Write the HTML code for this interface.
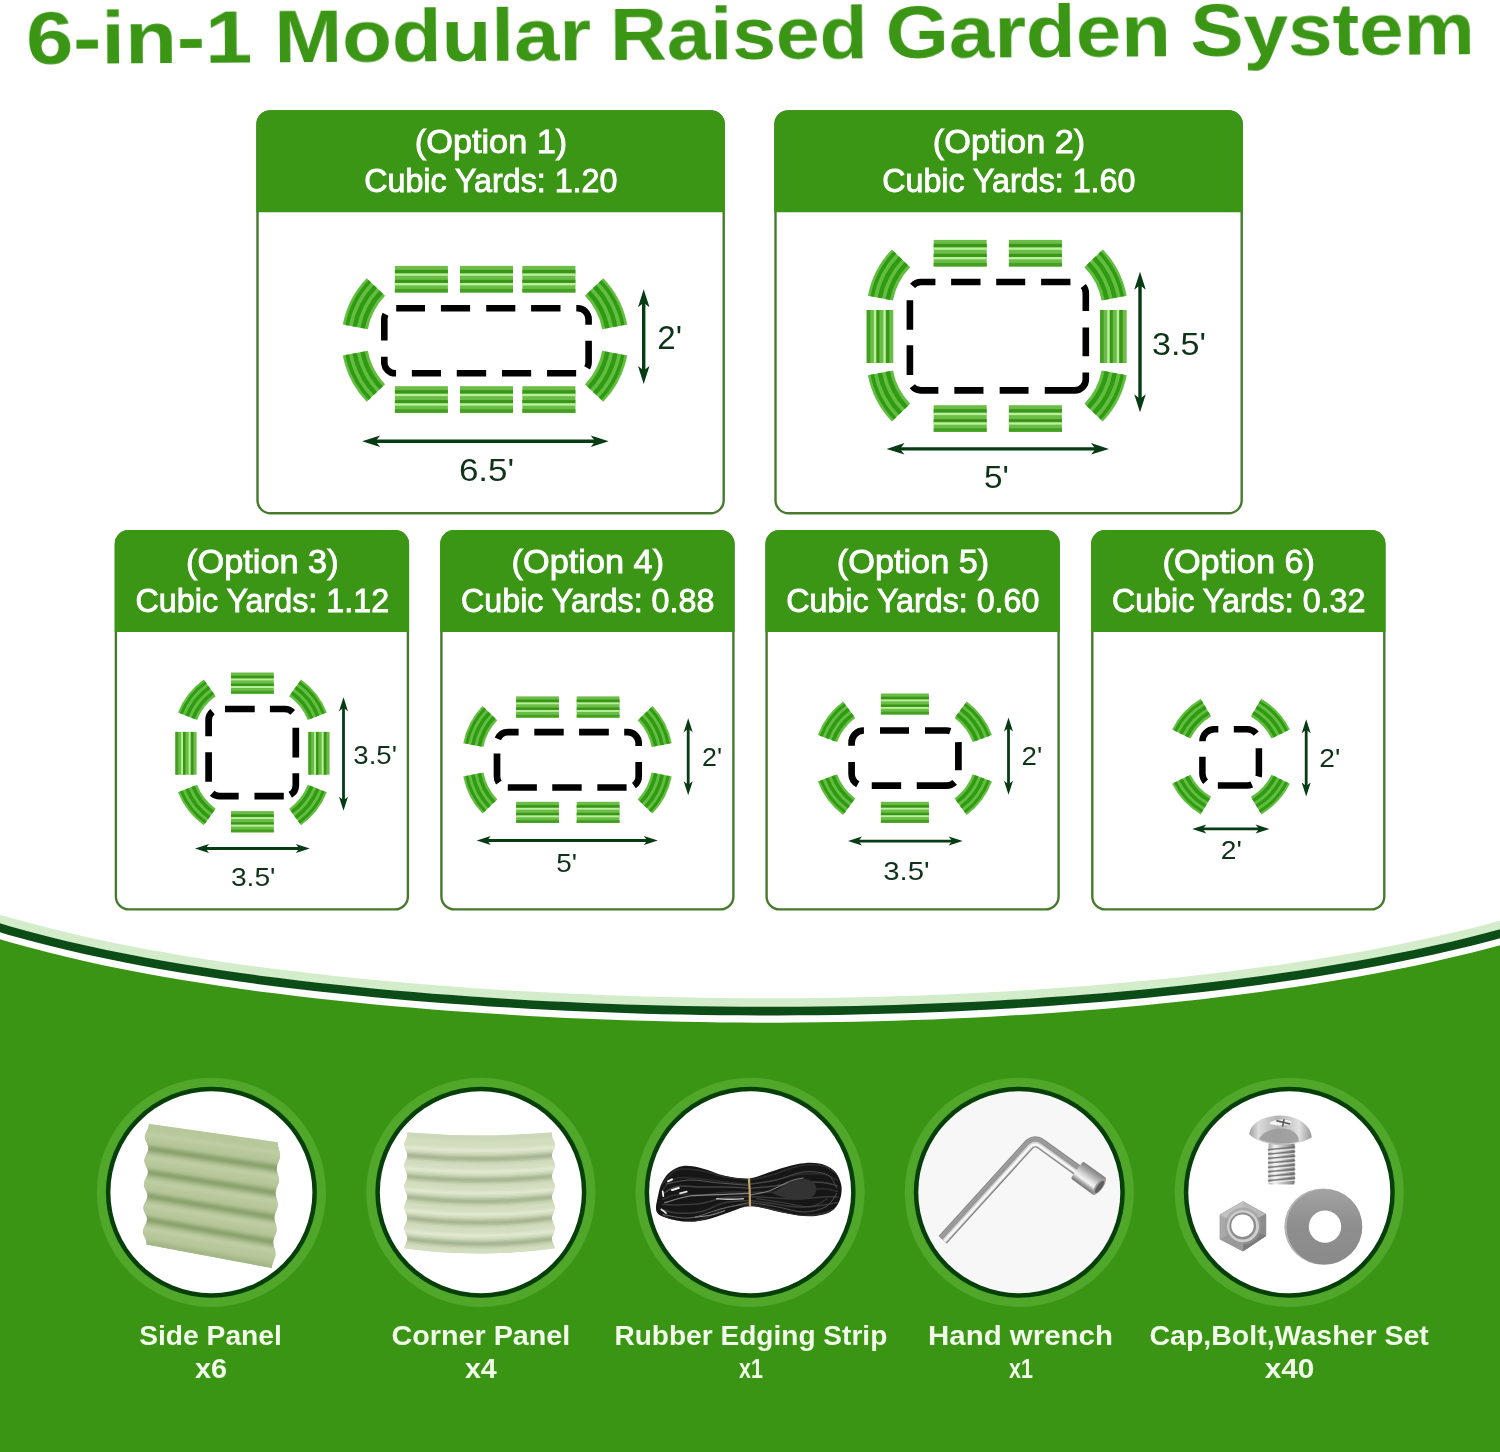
<!DOCTYPE html>
<html><head><meta charset="utf-8"><title>6-in-1 Modular Raised Garden System</title>
<style>html,body{margin:0;padding:0;background:#fff;}svg{display:block}text{font-family:"Liberation Sans",sans-serif;}</style>
</head><body>
<svg width="1500" height="1452" viewBox="0 0 1500 1452">
<rect width="1500" height="1452" fill="#fff"/>
<g opacity="0.999">
<g transform="rotate(-0.39 28 64)">
<text x="26.2" y="64.0" font-family="Liberation Sans, sans-serif" font-size="75" fill="#3c9616" text-anchor="start" font-weight="bold" textLength="226.2" lengthAdjust="spacingAndGlyphs">6-in-1</text>
<text x="274.5" y="64.0" font-family="Liberation Sans, sans-serif" font-size="75" fill="#3c9616" text-anchor="start" font-weight="bold" textLength="316.6" lengthAdjust="spacingAndGlyphs">Modular</text>
<text x="610.2" y="64.0" font-family="Liberation Sans, sans-serif" font-size="75" fill="#3c9616" text-anchor="start" font-weight="bold" textLength="257.6" lengthAdjust="spacingAndGlyphs">Raised</text>
<text x="885.7" y="64.0" font-family="Liberation Sans, sans-serif" font-size="75" fill="#3c9616" text-anchor="start" font-weight="bold" textLength="285.3" lengthAdjust="spacingAndGlyphs">Garden</text>
<text x="1190.5" y="64.0" font-family="Liberation Sans, sans-serif" font-size="75" fill="#3c9616" text-anchor="start" font-weight="bold" textLength="284.2" lengthAdjust="spacingAndGlyphs">System</text>
</g>
<rect x="257.5" y="111.4" width="466.2" height="401.9" rx="13" fill="#fff" stroke="#467a2c" stroke-width="2.4"/>
<path d="M256.3 212.3 V124.2 a14 14 0 0 1 14 -14 H710.9 a14 14 0 0 1 14 14 V212.3 Z" fill="#3c9616"/>
<text x="414.8" y="153.2" font-family="Liberation Sans, sans-serif" font-size="34" fill="#fff" text-anchor="start" textLength="152.5" lengthAdjust="spacingAndGlyphs" stroke="#fff" stroke-width="0.9">(Option 1)</text>
<text x="364.2" y="192.2" font-family="Liberation Sans, sans-serif" font-size="34" fill="#fff" text-anchor="start" textLength="253.2" lengthAdjust="spacingAndGlyphs" stroke="#fff" stroke-width="0.9">Cubic Yards: 1.20</text>
<rect x="775.5" y="111.4" width="466.2" height="401.9" rx="13" fill="#fff" stroke="#467a2c" stroke-width="2.4"/>
<path d="M774.3 212.3 V124.2 a14 14 0 0 1 14 -14 H1228.9 a14 14 0 0 1 14 14 V212.3 Z" fill="#3c9616"/>
<text x="932.8" y="153.2" font-family="Liberation Sans, sans-serif" font-size="34" fill="#fff" text-anchor="start" textLength="152.5" lengthAdjust="spacingAndGlyphs" stroke="#fff" stroke-width="0.9">(Option 2)</text>
<text x="882.2" y="192.2" font-family="Liberation Sans, sans-serif" font-size="34" fill="#fff" text-anchor="start" textLength="253.2" lengthAdjust="spacingAndGlyphs" stroke="#fff" stroke-width="0.9">Cubic Yards: 1.60</text>
<rect x="115.9" y="531.2" width="292.0" height="378.2" rx="13" fill="#fff" stroke="#467a2c" stroke-width="2.4"/>
<path d="M114.7 632.0 V544.0 a14 14 0 0 1 14 -14 H395.1 a14 14 0 0 1 14 14 V632.0 Z" fill="#3c9616"/>
<text x="186.1" y="573.0" font-family="Liberation Sans, sans-serif" font-size="34" fill="#fff" text-anchor="start" textLength="152.5" lengthAdjust="spacingAndGlyphs" stroke="#fff" stroke-width="0.9">(Option 3)</text>
<text x="135.5" y="612.0" font-family="Liberation Sans, sans-serif" font-size="34" fill="#fff" text-anchor="start" textLength="253.6" lengthAdjust="spacingAndGlyphs" stroke="#fff" stroke-width="0.9">Cubic Yards: 1.12</text>
<rect x="441.4" y="531.2" width="292.0" height="378.2" rx="13" fill="#fff" stroke="#467a2c" stroke-width="2.4"/>
<path d="M440.2 632.0 V544.0 a14 14 0 0 1 14 -14 H720.6 a14 14 0 0 1 14 14 V632.0 Z" fill="#3c9616"/>
<text x="511.6" y="573.0" font-family="Liberation Sans, sans-serif" font-size="34" fill="#fff" text-anchor="start" textLength="152.5" lengthAdjust="spacingAndGlyphs" stroke="#fff" stroke-width="0.9">(Option 4)</text>
<text x="461.0" y="612.0" font-family="Liberation Sans, sans-serif" font-size="34" fill="#fff" text-anchor="start" textLength="253.4" lengthAdjust="spacingAndGlyphs" stroke="#fff" stroke-width="0.9">Cubic Yards: 0.88</text>
<rect x="766.6" y="531.2" width="292.0" height="378.2" rx="13" fill="#fff" stroke="#467a2c" stroke-width="2.4"/>
<path d="M765.4 632.0 V544.0 a14 14 0 0 1 14 -14 H1045.8 a14 14 0 0 1 14 14 V632.0 Z" fill="#3c9616"/>
<text x="836.8" y="573.0" font-family="Liberation Sans, sans-serif" font-size="34" fill="#fff" text-anchor="start" textLength="152.5" lengthAdjust="spacingAndGlyphs" stroke="#fff" stroke-width="0.9">(Option 5)</text>
<text x="786.2" y="612.0" font-family="Liberation Sans, sans-serif" font-size="34" fill="#fff" text-anchor="start" textLength="253.2" lengthAdjust="spacingAndGlyphs" stroke="#fff" stroke-width="0.9">Cubic Yards: 0.60</text>
<rect x="1092.3" y="531.2" width="292.0" height="378.2" rx="13" fill="#fff" stroke="#467a2c" stroke-width="2.4"/>
<path d="M1091.1 632.0 V544.0 a14 14 0 0 1 14 -14 H1371.5 a14 14 0 0 1 14 14 V632.0 Z" fill="#3c9616"/>
<text x="1162.5" y="573.0" font-family="Liberation Sans, sans-serif" font-size="34" fill="#fff" text-anchor="start" textLength="152.5" lengthAdjust="spacingAndGlyphs" stroke="#fff" stroke-width="0.9">(Option 6)</text>
<text x="1111.9" y="612.0" font-family="Liberation Sans, sans-serif" font-size="34" fill="#fff" text-anchor="start" textLength="253.6" lengthAdjust="spacingAndGlyphs" stroke="#fff" stroke-width="0.9">Cubic Yards: 0.32</text>
<g transform="translate(421.4 279.2)">
<rect x="-26.50" y="-13.30" width="53.00" height="26.60" fill="#6cbc48"/>
<rect x="-26.50" y="-9.34" width="53.00" height="3.59" fill="#3a9618"/>
<rect x="-26.50" y="-5.75" width="53.00" height="2.37" fill="#b8f09c"/>
<rect x="-26.50" y="0.59" width="53.00" height="3.19" fill="#3a9618"/>
<rect x="-26.50" y="3.78" width="53.00" height="2.37" fill="#b8f09c"/>
<rect x="-26.50" y="9.74" width="53.00" height="3.56" fill="#43a020"/>
</g>
<g transform="translate(421.4 399.5)">
<rect x="-26.50" y="-13.30" width="53.00" height="26.60" fill="#6cbc48"/>
<rect x="-26.50" y="-9.34" width="53.00" height="3.59" fill="#3a9618"/>
<rect x="-26.50" y="-5.75" width="53.00" height="2.37" fill="#b8f09c"/>
<rect x="-26.50" y="0.59" width="53.00" height="3.19" fill="#3a9618"/>
<rect x="-26.50" y="3.78" width="53.00" height="2.37" fill="#b8f09c"/>
<rect x="-26.50" y="9.74" width="53.00" height="3.56" fill="#43a020"/>
</g>
<g transform="translate(486.5 279.2)">
<rect x="-26.50" y="-13.30" width="53.00" height="26.60" fill="#6cbc48"/>
<rect x="-26.50" y="-9.34" width="53.00" height="3.59" fill="#3a9618"/>
<rect x="-26.50" y="-5.75" width="53.00" height="2.37" fill="#b8f09c"/>
<rect x="-26.50" y="0.59" width="53.00" height="3.19" fill="#3a9618"/>
<rect x="-26.50" y="3.78" width="53.00" height="2.37" fill="#b8f09c"/>
<rect x="-26.50" y="9.74" width="53.00" height="3.56" fill="#43a020"/>
</g>
<g transform="translate(486.5 399.5)">
<rect x="-26.50" y="-13.30" width="53.00" height="26.60" fill="#6cbc48"/>
<rect x="-26.50" y="-9.34" width="53.00" height="3.59" fill="#3a9618"/>
<rect x="-26.50" y="-5.75" width="53.00" height="2.37" fill="#b8f09c"/>
<rect x="-26.50" y="0.59" width="53.00" height="3.19" fill="#3a9618"/>
<rect x="-26.50" y="3.78" width="53.00" height="2.37" fill="#b8f09c"/>
<rect x="-26.50" y="9.74" width="53.00" height="3.56" fill="#43a020"/>
</g>
<g transform="translate(548.9 279.2)">
<rect x="-26.50" y="-13.30" width="53.00" height="26.60" fill="#6cbc48"/>
<rect x="-26.50" y="-9.34" width="53.00" height="3.59" fill="#3a9618"/>
<rect x="-26.50" y="-5.75" width="53.00" height="2.37" fill="#b8f09c"/>
<rect x="-26.50" y="0.59" width="53.00" height="3.19" fill="#3a9618"/>
<rect x="-26.50" y="3.78" width="53.00" height="2.37" fill="#b8f09c"/>
<rect x="-26.50" y="9.74" width="53.00" height="3.56" fill="#43a020"/>
</g>
<g transform="translate(548.9 399.5)">
<rect x="-26.50" y="-13.30" width="53.00" height="26.60" fill="#6cbc48"/>
<rect x="-26.50" y="-9.34" width="53.00" height="3.59" fill="#3a9618"/>
<rect x="-26.50" y="-5.75" width="53.00" height="2.37" fill="#b8f09c"/>
<rect x="-26.50" y="0.59" width="53.00" height="3.19" fill="#3a9618"/>
<rect x="-26.50" y="3.78" width="53.00" height="2.37" fill="#b8f09c"/>
<rect x="-26.50" y="9.74" width="53.00" height="3.56" fill="#43a020"/>
</g>
<path d="M342.82 324.39 A91.50 91.50 0 0 1 366.66 278.20 L385.06 295.85 A66.00 66.00 0 0 0 367.87 329.16 Z" fill="#62bd40"/>
<path d="M362.61 328.16 A71.36 71.36 0 0 1 381.20 292.14" fill="none" stroke="#2f9a12" stroke-width="4.46"/>
<path d="M354.69 326.65 A79.41 79.41 0 0 1 375.38 286.57" fill="none" stroke="#2f9a12" stroke-width="4.46"/>
<path d="M347.20 325.22 A87.04 87.04 0 0 1 369.88 281.29" fill="none" stroke="#2f9a12" stroke-width="3.57"/>
<path d="M603.34 278.20 A91.50 91.50 0 0 1 627.18 324.39 L602.13 329.16 A66.00 66.00 0 0 0 584.94 295.85 Z" fill="#62bd40"/>
<path d="M588.80 292.14 A71.36 71.36 0 0 1 607.39 328.16" fill="none" stroke="#2f9a12" stroke-width="4.46"/>
<path d="M594.62 286.57 A79.41 79.41 0 0 1 615.31 326.65" fill="none" stroke="#2f9a12" stroke-width="4.46"/>
<path d="M600.12 281.29 A87.04 87.04 0 0 1 622.80 325.22" fill="none" stroke="#2f9a12" stroke-width="3.57"/>
<path d="M366.66 401.80 A91.50 91.50 0 0 1 342.82 355.61 L367.87 350.84 A66.00 66.00 0 0 0 385.06 384.15 Z" fill="#62bd40"/>
<path d="M381.20 387.86 A71.36 71.36 0 0 1 362.61 351.84" fill="none" stroke="#2f9a12" stroke-width="4.46"/>
<path d="M375.38 393.43 A79.41 79.41 0 0 1 354.69 353.35" fill="none" stroke="#2f9a12" stroke-width="4.46"/>
<path d="M369.88 398.71 A87.04 87.04 0 0 1 347.20 354.78" fill="none" stroke="#2f9a12" stroke-width="3.57"/>
<path d="M627.18 355.61 A91.50 91.50 0 0 1 603.34 401.80 L584.94 384.15 A66.00 66.00 0 0 0 602.13 350.84 Z" fill="#62bd40"/>
<path d="M607.39 351.84 A71.36 71.36 0 0 1 588.80 387.86" fill="none" stroke="#2f9a12" stroke-width="4.46"/>
<path d="M615.31 353.35 A79.41 79.41 0 0 1 594.62 393.43" fill="none" stroke="#2f9a12" stroke-width="4.46"/>
<path d="M622.80 354.78 A87.04 87.04 0 0 1 600.12 398.71" fill="none" stroke="#2f9a12" stroke-width="3.57"/>
<path d="M384.30 319.30 A11 11 0 0 1 395.30 308.30 H577.60 A11 11 0 0 1 588.60 319.30 V362.30 A11 11 0 0 1 577.60 373.30 H395.30 A11 11 0 0 1 384.30 362.30 V319.30" fill="none" stroke="#000" stroke-width="6.6" stroke-dasharray="5.18 12.90 28.80 15.90 29.20 16.10 29.10 15.80 29.40 15.80 23.78 16.10 27.30 12.88 29.10 15.90 29.20 15.80 29.40 15.80 29.10 15.80 23.58 16.10 21.70 50.00"/>
<line x1="643.7" y1="300.0" x2="643.7" y2="373.1" stroke="#073b13" stroke-width="3.4"/>
<path d="M643.7 289.2 L638.0 307.2 L643.7 302.7 L649.5 307.2 Z" fill="#073b13"/>
<path d="M643.7 383.9 L638.0 365.9 L643.7 370.4 L649.5 365.9 Z" fill="#073b13"/>
<text x="657.3" y="348.8" font-family="Liberation Sans, sans-serif" font-size="33" fill="#0f3318" text-anchor="start" textLength="24.7" lengthAdjust="spacingAndGlyphs">2'</text>
<line x1="372.9" y1="441.2" x2="597.9" y2="441.2" stroke="#073b13" stroke-width="3.4"/>
<path d="M362.1 441.2 L380.1 446.9 L375.6 441.2 L380.1 435.4 Z" fill="#073b13"/>
<path d="M608.7 441.2 L590.7 446.9 L595.2 441.2 L590.7 435.4 Z" fill="#073b13"/>
<text x="458.9" y="480.6" font-family="Liberation Sans, sans-serif" font-size="32" fill="#0f3318" text-anchor="start" textLength="55.3" lengthAdjust="spacingAndGlyphs">6.5'</text>
<g transform="translate(960.2 253.2)">
<rect x="-26.50" y="-13.30" width="53.00" height="26.60" fill="#6cbc48"/>
<rect x="-26.50" y="-9.34" width="53.00" height="3.59" fill="#3a9618"/>
<rect x="-26.50" y="-5.75" width="53.00" height="2.37" fill="#b8f09c"/>
<rect x="-26.50" y="0.59" width="53.00" height="3.19" fill="#3a9618"/>
<rect x="-26.50" y="3.78" width="53.00" height="2.37" fill="#b8f09c"/>
<rect x="-26.50" y="9.74" width="53.00" height="3.56" fill="#43a020"/>
</g>
<g transform="translate(960.2 418.5)">
<rect x="-26.50" y="-13.30" width="53.00" height="26.60" fill="#6cbc48"/>
<rect x="-26.50" y="-9.34" width="53.00" height="3.59" fill="#3a9618"/>
<rect x="-26.50" y="-5.75" width="53.00" height="2.37" fill="#b8f09c"/>
<rect x="-26.50" y="0.59" width="53.00" height="3.19" fill="#3a9618"/>
<rect x="-26.50" y="3.78" width="53.00" height="2.37" fill="#b8f09c"/>
<rect x="-26.50" y="9.74" width="53.00" height="3.56" fill="#43a020"/>
</g>
<g transform="translate(1035.4 253.2)">
<rect x="-26.50" y="-13.30" width="53.00" height="26.60" fill="#6cbc48"/>
<rect x="-26.50" y="-9.34" width="53.00" height="3.59" fill="#3a9618"/>
<rect x="-26.50" y="-5.75" width="53.00" height="2.37" fill="#b8f09c"/>
<rect x="-26.50" y="0.59" width="53.00" height="3.19" fill="#3a9618"/>
<rect x="-26.50" y="3.78" width="53.00" height="2.37" fill="#b8f09c"/>
<rect x="-26.50" y="9.74" width="53.00" height="3.56" fill="#43a020"/>
</g>
<g transform="translate(1035.4 418.5)">
<rect x="-26.50" y="-13.30" width="53.00" height="26.60" fill="#6cbc48"/>
<rect x="-26.50" y="-9.34" width="53.00" height="3.59" fill="#3a9618"/>
<rect x="-26.50" y="-5.75" width="53.00" height="2.37" fill="#b8f09c"/>
<rect x="-26.50" y="0.59" width="53.00" height="3.19" fill="#3a9618"/>
<rect x="-26.50" y="3.78" width="53.00" height="2.37" fill="#b8f09c"/>
<rect x="-26.50" y="9.74" width="53.00" height="3.56" fill="#43a020"/>
</g>
<g transform="translate(880.0 336.5) rotate(90)">
<rect x="-26.50" y="-13.30" width="53.00" height="26.60" fill="#6cbc48"/>
<rect x="-26.50" y="-9.34" width="53.00" height="3.59" fill="#3a9618"/>
<rect x="-26.50" y="-5.75" width="53.00" height="2.37" fill="#b8f09c"/>
<rect x="-26.50" y="0.59" width="53.00" height="3.19" fill="#3a9618"/>
<rect x="-26.50" y="3.78" width="53.00" height="2.37" fill="#b8f09c"/>
<rect x="-26.50" y="9.74" width="53.00" height="3.56" fill="#43a020"/>
</g>
<g transform="translate(1113.4 336.5) rotate(90)">
<rect x="-26.50" y="-13.30" width="53.00" height="26.60" fill="#6cbc48"/>
<rect x="-26.50" y="-9.34" width="53.00" height="3.59" fill="#3a9618"/>
<rect x="-26.50" y="-5.75" width="53.00" height="2.37" fill="#b8f09c"/>
<rect x="-26.50" y="0.59" width="53.00" height="3.19" fill="#3a9618"/>
<rect x="-26.50" y="3.78" width="53.00" height="2.37" fill="#b8f09c"/>
<rect x="-26.50" y="9.74" width="53.00" height="3.56" fill="#43a020"/>
</g>
<path d="M867.92 295.69 A91.50 91.50 0 0 1 891.76 249.50 L910.16 267.15 A66.00 66.00 0 0 0 892.97 300.46 Z" fill="#62bd40"/>
<path d="M887.71 299.46 A71.36 71.36 0 0 1 906.30 263.44" fill="none" stroke="#2f9a12" stroke-width="4.46"/>
<path d="M879.79 297.95 A79.41 79.41 0 0 1 900.48 257.87" fill="none" stroke="#2f9a12" stroke-width="4.46"/>
<path d="M872.30 296.52 A87.04 87.04 0 0 1 894.98 252.59" fill="none" stroke="#2f9a12" stroke-width="3.57"/>
<path d="M1102.84 249.50 A91.50 91.50 0 0 1 1126.68 295.69 L1101.63 300.46 A66.00 66.00 0 0 0 1084.44 267.15 Z" fill="#62bd40"/>
<path d="M1088.30 263.44 A71.36 71.36 0 0 1 1106.89 299.46" fill="none" stroke="#2f9a12" stroke-width="4.46"/>
<path d="M1094.12 257.87 A79.41 79.41 0 0 1 1114.81 297.95" fill="none" stroke="#2f9a12" stroke-width="4.46"/>
<path d="M1099.62 252.59 A87.04 87.04 0 0 1 1122.30 296.52" fill="none" stroke="#2f9a12" stroke-width="3.57"/>
<path d="M891.76 421.50 A91.50 91.50 0 0 1 867.92 375.31 L892.97 370.54 A66.00 66.00 0 0 0 910.16 403.85 Z" fill="#62bd40"/>
<path d="M906.30 407.56 A71.36 71.36 0 0 1 887.71 371.54" fill="none" stroke="#2f9a12" stroke-width="4.46"/>
<path d="M900.48 413.13 A79.41 79.41 0 0 1 879.79 373.05" fill="none" stroke="#2f9a12" stroke-width="4.46"/>
<path d="M894.98 418.41 A87.04 87.04 0 0 1 872.30 374.48" fill="none" stroke="#2f9a12" stroke-width="3.57"/>
<path d="M1126.68 375.31 A91.50 91.50 0 0 1 1102.84 421.50 L1084.44 403.85 A66.00 66.00 0 0 0 1101.63 370.54 Z" fill="#62bd40"/>
<path d="M1106.89 371.54 A71.36 71.36 0 0 1 1088.30 407.56" fill="none" stroke="#2f9a12" stroke-width="4.46"/>
<path d="M1114.81 373.05 A79.41 79.41 0 0 1 1094.12 413.13" fill="none" stroke="#2f9a12" stroke-width="4.46"/>
<path d="M1122.30 374.48 A87.04 87.04 0 0 1 1099.62 418.41" fill="none" stroke="#2f9a12" stroke-width="3.57"/>
<path d="M909.90 293.00 A11 11 0 0 1 920.90 282.00 H1074.80 A11 11 0 0 1 1085.80 293.00 V379.40 A11 11 0 0 1 1074.80 390.40 H920.90 A11 11 0 0 1 909.90 379.40 V293.00" fill="none" stroke="#000" stroke-width="6.6" stroke-dasharray="0.00 7.78 23.90 15.70 29.40 15.70 29.00 15.90 29.30 14.00 25.58 16.40 28.70 16.40 54.08 16.20 28.90 16.20 29.10 16.00 27.30 11.78 29.80 15.30 29.50 57.80"/>
<line x1="1140.0" y1="282.5" x2="1140.0" y2="401.4" stroke="#073b13" stroke-width="3.4"/>
<path d="M1140.0 271.7 L1134.2 289.7 L1140.0 285.2 L1145.8 289.7 Z" fill="#073b13"/>
<path d="M1140.0 412.2 L1134.2 394.2 L1140.0 398.7 L1145.8 394.2 Z" fill="#073b13"/>
<text x="1152.1" y="355.2" font-family="Liberation Sans, sans-serif" font-size="32" fill="#0f3318" text-anchor="start" textLength="53.8" lengthAdjust="spacingAndGlyphs">3.5'</text>
<line x1="897.3" y1="448.9" x2="1098.2" y2="448.9" stroke="#073b13" stroke-width="3.4"/>
<path d="M886.5 448.9 L904.5 454.6 L900.0 448.9 L904.5 443.1 Z" fill="#073b13"/>
<path d="M1109.0 448.9 L1091.0 454.6 L1095.5 448.9 L1091.0 443.1 Z" fill="#073b13"/>
<text x="983.9" y="487.6" font-family="Liberation Sans, sans-serif" font-size="32" fill="#0f3318" text-anchor="start" textLength="24.9" lengthAdjust="spacingAndGlyphs">5'</text>
<g transform="translate(252.4 683.1)">
<rect x="-21.40" y="-10.60" width="42.80" height="21.20" fill="#6cbc48"/>
<rect x="-21.40" y="-7.44" width="42.80" height="2.86" fill="#3a9618"/>
<rect x="-21.40" y="-4.58" width="42.80" height="1.89" fill="#b8f09c"/>
<rect x="-21.40" y="0.47" width="42.80" height="2.54" fill="#3a9618"/>
<rect x="-21.40" y="3.01" width="42.80" height="1.89" fill="#b8f09c"/>
<rect x="-21.40" y="7.76" width="42.80" height="2.84" fill="#43a020"/>
</g>
<g transform="translate(252.4 821.7)">
<rect x="-21.40" y="-10.60" width="42.80" height="21.20" fill="#6cbc48"/>
<rect x="-21.40" y="-7.44" width="42.80" height="2.86" fill="#3a9618"/>
<rect x="-21.40" y="-4.58" width="42.80" height="1.89" fill="#b8f09c"/>
<rect x="-21.40" y="0.47" width="42.80" height="2.54" fill="#3a9618"/>
<rect x="-21.40" y="3.01" width="42.80" height="1.89" fill="#b8f09c"/>
<rect x="-21.40" y="7.76" width="42.80" height="2.84" fill="#43a020"/>
</g>
<g transform="translate(186.0 753.3) rotate(90)">
<rect x="-21.40" y="-10.60" width="42.80" height="21.20" fill="#6cbc48"/>
<rect x="-21.40" y="-7.44" width="42.80" height="2.86" fill="#3a9618"/>
<rect x="-21.40" y="-4.58" width="42.80" height="1.89" fill="#b8f09c"/>
<rect x="-21.40" y="0.47" width="42.80" height="2.54" fill="#3a9618"/>
<rect x="-21.40" y="3.01" width="42.80" height="1.89" fill="#b8f09c"/>
<rect x="-21.40" y="7.76" width="42.80" height="2.84" fill="#43a020"/>
</g>
<g transform="translate(319.0 753.3) rotate(90)">
<rect x="-21.40" y="-10.60" width="42.80" height="21.20" fill="#6cbc48"/>
<rect x="-21.40" y="-7.44" width="42.80" height="2.86" fill="#3a9618"/>
<rect x="-21.40" y="-4.58" width="42.80" height="1.89" fill="#b8f09c"/>
<rect x="-21.40" y="0.47" width="42.80" height="2.54" fill="#3a9618"/>
<rect x="-21.40" y="3.01" width="42.80" height="1.89" fill="#b8f09c"/>
<rect x="-21.40" y="7.76" width="42.80" height="2.84" fill="#43a020"/>
</g>
<path d="M177.97 712.43 A73.66 73.66 0 0 1 203.72 679.46 L215.65 696.17 A53.13 53.13 0 0 0 197.06 719.95 Z" fill="#62bd40"/>
<path d="M193.05 718.37 A57.44 57.44 0 0 1 213.14 692.66" fill="none" stroke="#2f9a12" stroke-width="3.59"/>
<path d="M187.02 715.99 A63.93 63.93 0 0 1 209.37 687.38" fill="none" stroke="#2f9a12" stroke-width="3.59"/>
<path d="M181.31 713.74 A70.07 70.07 0 0 1 205.81 682.38" fill="none" stroke="#2f9a12" stroke-width="2.87"/>
<path d="M301.08 679.46 A73.66 73.66 0 0 1 326.83 712.43 L307.74 719.95 A53.13 53.13 0 0 0 289.15 696.17 Z" fill="#62bd40"/>
<path d="M291.66 692.66 A57.44 57.44 0 0 1 311.75 718.37" fill="none" stroke="#2f9a12" stroke-width="3.59"/>
<path d="M295.43 687.38 A63.93 63.93 0 0 1 317.78 715.99" fill="none" stroke="#2f9a12" stroke-width="3.59"/>
<path d="M298.99 682.38 A70.07 70.07 0 0 1 323.49 713.74" fill="none" stroke="#2f9a12" stroke-width="2.87"/>
<path d="M203.72 825.34 A73.66 73.66 0 0 1 177.97 792.37 L197.06 784.85 A53.13 53.13 0 0 0 215.65 808.63 Z" fill="#62bd40"/>
<path d="M213.14 812.14 A57.44 57.44 0 0 1 193.05 786.43" fill="none" stroke="#2f9a12" stroke-width="3.59"/>
<path d="M209.37 817.42 A63.93 63.93 0 0 1 187.02 788.81" fill="none" stroke="#2f9a12" stroke-width="3.59"/>
<path d="M205.81 822.42 A70.07 70.07 0 0 1 181.31 791.06" fill="none" stroke="#2f9a12" stroke-width="2.87"/>
<path d="M326.83 792.37 A73.66 73.66 0 0 1 301.08 825.34 L289.15 808.63 A53.13 53.13 0 0 0 307.74 784.85 Z" fill="#62bd40"/>
<path d="M311.75 786.43 A57.44 57.44 0 0 1 291.66 812.14" fill="none" stroke="#2f9a12" stroke-width="3.59"/>
<path d="M317.78 788.81 A63.93 63.93 0 0 1 295.43 817.42" fill="none" stroke="#2f9a12" stroke-width="3.59"/>
<path d="M323.49 791.06 A70.07 70.07 0 0 1 298.99 822.42" fill="none" stroke="#2f9a12" stroke-width="2.87"/>
<path d="M208.60 720.00 A11 11 0 0 1 219.60 709.00 H284.80 A11 11 0 0 1 295.80 720.00 V785.20 A11 11 0 0 1 284.80 796.20 H219.60 A11 11 0 0 1 208.60 785.20 V720.00" fill="none" stroke="#000" stroke-width="6.7" stroke-dasharray="9.50 13.08 29.70 15.20 23.64 16.14 29.70 15.80 23.43 6.75 29.30 15.80 27.18 12.60 29.30 16.20 16.60 50.00"/>
<line x1="343.5" y1="705.6" x2="343.5" y2="802.3" stroke="#073b13" stroke-width="2.8"/>
<path d="M343.5 697.2 L339.0 711.2 L343.5 707.7 L348.0 711.2 Z" fill="#073b13"/>
<path d="M343.5 810.7 L339.0 796.7 L343.5 800.2 L348.0 796.7 Z" fill="#073b13"/>
<text x="353.3" y="764.3" font-family="Liberation Sans, sans-serif" font-size="25" fill="#0f3318" text-anchor="start" textLength="43.6" lengthAdjust="spacingAndGlyphs">3.5'</text>
<line x1="203.4" y1="848.5" x2="301.4" y2="848.5" stroke="#073b13" stroke-width="2.8"/>
<path d="M195.0 848.5 L209.0 853.0 L205.5 848.5 L209.0 844.0 Z" fill="#073b13"/>
<path d="M309.8 848.5 L295.8 853.0 L299.3 848.5 L295.8 844.0 Z" fill="#073b13"/>
<text x="230.9" y="885.8" font-family="Liberation Sans, sans-serif" font-size="25" fill="#0f3318" text-anchor="start" textLength="44.6" lengthAdjust="spacingAndGlyphs">3.5'</text>
<g transform="translate(537.5 707.0)">
<rect x="-21.40" y="-10.60" width="42.80" height="21.20" fill="#6cbc48"/>
<rect x="-21.40" y="-7.44" width="42.80" height="2.86" fill="#3a9618"/>
<rect x="-21.40" y="-4.58" width="42.80" height="1.89" fill="#b8f09c"/>
<rect x="-21.40" y="0.47" width="42.80" height="2.54" fill="#3a9618"/>
<rect x="-21.40" y="3.01" width="42.80" height="1.89" fill="#b8f09c"/>
<rect x="-21.40" y="7.76" width="42.80" height="2.84" fill="#43a020"/>
</g>
<g transform="translate(537.5 812.4)">
<rect x="-21.40" y="-10.60" width="42.80" height="21.20" fill="#6cbc48"/>
<rect x="-21.40" y="-7.44" width="42.80" height="2.86" fill="#3a9618"/>
<rect x="-21.40" y="-4.58" width="42.80" height="1.89" fill="#b8f09c"/>
<rect x="-21.40" y="0.47" width="42.80" height="2.54" fill="#3a9618"/>
<rect x="-21.40" y="3.01" width="42.80" height="1.89" fill="#b8f09c"/>
<rect x="-21.40" y="7.76" width="42.80" height="2.84" fill="#43a020"/>
</g>
<g transform="translate(598.1 707.0)">
<rect x="-21.40" y="-10.60" width="42.80" height="21.20" fill="#6cbc48"/>
<rect x="-21.40" y="-7.44" width="42.80" height="2.86" fill="#3a9618"/>
<rect x="-21.40" y="-4.58" width="42.80" height="1.89" fill="#b8f09c"/>
<rect x="-21.40" y="0.47" width="42.80" height="2.54" fill="#3a9618"/>
<rect x="-21.40" y="3.01" width="42.80" height="1.89" fill="#b8f09c"/>
<rect x="-21.40" y="7.76" width="42.80" height="2.84" fill="#43a020"/>
</g>
<g transform="translate(598.1 812.4)">
<rect x="-21.40" y="-10.60" width="42.80" height="21.20" fill="#6cbc48"/>
<rect x="-21.40" y="-7.44" width="42.80" height="2.86" fill="#3a9618"/>
<rect x="-21.40" y="-4.58" width="42.80" height="1.89" fill="#b8f09c"/>
<rect x="-21.40" y="0.47" width="42.80" height="2.54" fill="#3a9618"/>
<rect x="-21.40" y="3.01" width="42.80" height="1.89" fill="#b8f09c"/>
<rect x="-21.40" y="7.76" width="42.80" height="2.84" fill="#43a020"/>
</g>
<path d="M463.26 743.18 A73.66 73.66 0 0 1 482.45 706.00 L497.27 720.20 A53.13 53.13 0 0 0 483.42 747.02 Z" fill="#62bd40"/>
<path d="M479.19 746.21 A57.44 57.44 0 0 1 494.15 717.22" fill="none" stroke="#2f9a12" stroke-width="3.59"/>
<path d="M472.82 745.00 A63.93 63.93 0 0 1 489.47 712.73" fill="none" stroke="#2f9a12" stroke-width="3.59"/>
<path d="M466.79 743.85 A70.07 70.07 0 0 1 485.04 708.48" fill="none" stroke="#2f9a12" stroke-width="2.87"/>
<path d="M652.55 706.00 A73.66 73.66 0 0 1 671.74 743.18 L651.58 747.02 A53.13 53.13 0 0 0 637.73 720.20 Z" fill="#62bd40"/>
<path d="M640.85 717.22 A57.44 57.44 0 0 1 655.81 746.21" fill="none" stroke="#2f9a12" stroke-width="3.59"/>
<path d="M645.53 712.73 A63.93 63.93 0 0 1 662.18 745.00" fill="none" stroke="#2f9a12" stroke-width="3.59"/>
<path d="M649.96 708.48 A70.07 70.07 0 0 1 668.21 743.85" fill="none" stroke="#2f9a12" stroke-width="2.87"/>
<path d="M482.45 813.60 A73.66 73.66 0 0 1 463.26 776.42 L483.42 772.58 A53.13 53.13 0 0 0 497.27 799.40 Z" fill="#62bd40"/>
<path d="M494.15 802.38 A57.44 57.44 0 0 1 479.19 773.39" fill="none" stroke="#2f9a12" stroke-width="3.59"/>
<path d="M489.47 806.87 A63.93 63.93 0 0 1 472.82 774.60" fill="none" stroke="#2f9a12" stroke-width="3.59"/>
<path d="M485.04 811.12 A70.07 70.07 0 0 1 466.79 775.75" fill="none" stroke="#2f9a12" stroke-width="2.87"/>
<path d="M671.74 776.42 A73.66 73.66 0 0 1 652.55 813.60 L637.73 799.40 A53.13 53.13 0 0 0 651.58 772.58 Z" fill="#62bd40"/>
<path d="M655.81 773.39 A57.44 57.44 0 0 1 640.85 802.38" fill="none" stroke="#2f9a12" stroke-width="3.59"/>
<path d="M662.18 774.60 A63.93 63.93 0 0 1 645.53 806.87" fill="none" stroke="#2f9a12" stroke-width="3.59"/>
<path d="M668.21 775.75 A70.07 70.07 0 0 1 649.96 811.12" fill="none" stroke="#2f9a12" stroke-width="2.87"/>
<path d="M497.00 743.10 A11 11 0 0 1 508.00 732.10 H627.70 A11 11 0 0 1 638.70 743.10 V776.50 A11 11 0 0 1 627.70 787.50 H508.00 A11 11 0 0 1 497.00 776.50 V743.10" fill="none" stroke="#000" stroke-width="6.7" stroke-dasharray="0.00 4.32 23.46 15.70 29.40 15.40 29.70 15.40 23.58 15.95 25.12 7.71 29.20 15.70 29.40 15.40 29.10 10.47 29.41 60.90"/>
<line x1="688.2" y1="726.7" x2="688.2" y2="786.9" stroke="#073b13" stroke-width="2.8"/>
<path d="M688.2 718.3 L683.7 732.3 L688.2 728.8 L692.7 732.3 Z" fill="#073b13"/>
<path d="M688.2 795.3 L683.7 781.3 L688.2 784.8 L692.7 781.3 Z" fill="#073b13"/>
<text x="702.0" y="765.7" font-family="Liberation Sans, sans-serif" font-size="25" fill="#0f3318" text-anchor="start" textLength="20.0" lengthAdjust="spacingAndGlyphs">2'</text>
<line x1="485.1" y1="840.5" x2="649.4" y2="840.5" stroke="#073b13" stroke-width="2.8"/>
<path d="M476.7 840.5 L490.7 845.0 L487.2 840.5 L490.7 836.0 Z" fill="#073b13"/>
<path d="M657.8 840.5 L643.8 845.0 L647.3 840.5 L643.8 836.0 Z" fill="#073b13"/>
<text x="556.2" y="872.0" font-family="Liberation Sans, sans-serif" font-size="25" fill="#0f3318" text-anchor="start" textLength="20.8" lengthAdjust="spacingAndGlyphs">5'</text>
<g transform="translate(904.9 704.0)">
<rect x="-24.00" y="-10.50" width="48.00" height="21.00" fill="#6cbc48"/>
<rect x="-24.00" y="-7.37" width="48.00" height="2.83" fill="#3a9618"/>
<rect x="-24.00" y="-4.54" width="48.00" height="1.87" fill="#b8f09c"/>
<rect x="-24.00" y="0.46" width="48.00" height="2.52" fill="#3a9618"/>
<rect x="-24.00" y="2.98" width="48.00" height="1.87" fill="#b8f09c"/>
<rect x="-24.00" y="7.69" width="48.00" height="2.81" fill="#43a020"/>
</g>
<g transform="translate(904.9 812.3)">
<rect x="-24.00" y="-10.50" width="48.00" height="21.00" fill="#6cbc48"/>
<rect x="-24.00" y="-7.37" width="48.00" height="2.83" fill="#3a9618"/>
<rect x="-24.00" y="-4.54" width="48.00" height="1.87" fill="#b8f09c"/>
<rect x="-24.00" y="0.46" width="48.00" height="2.52" fill="#3a9618"/>
<rect x="-24.00" y="2.98" width="48.00" height="1.87" fill="#b8f09c"/>
<rect x="-24.00" y="7.69" width="48.00" height="2.81" fill="#43a020"/>
</g>
<path d="M817.85 734.88 A73.66 73.66 0 0 1 843.03 701.47 L855.24 717.97 A53.13 53.13 0 0 0 837.08 742.07 Z" fill="#62bd40"/>
<path d="M833.04 740.56 A57.44 57.44 0 0 1 852.68 714.51" fill="none" stroke="#2f9a12" stroke-width="3.59"/>
<path d="M826.96 738.29 A63.93 63.93 0 0 1 848.82 709.29" fill="none" stroke="#2f9a12" stroke-width="3.59"/>
<path d="M821.22 736.14 A70.07 70.07 0 0 1 845.17 704.36" fill="none" stroke="#2f9a12" stroke-width="2.87"/>
<path d="M966.77 701.47 A73.66 73.66 0 0 1 991.95 734.88 L972.72 742.07 A53.13 53.13 0 0 0 954.56 717.97 Z" fill="#62bd40"/>
<path d="M957.12 714.51 A57.44 57.44 0 0 1 976.76 740.56" fill="none" stroke="#2f9a12" stroke-width="3.59"/>
<path d="M960.98 709.29 A63.93 63.93 0 0 1 982.84 738.29" fill="none" stroke="#2f9a12" stroke-width="3.59"/>
<path d="M964.63 704.36 A70.07 70.07 0 0 1 988.58 736.14" fill="none" stroke="#2f9a12" stroke-width="2.87"/>
<path d="M843.03 814.93 A73.66 73.66 0 0 1 817.85 781.52 L837.08 774.33 A53.13 53.13 0 0 0 855.24 798.43 Z" fill="#62bd40"/>
<path d="M852.68 801.89 A57.44 57.44 0 0 1 833.04 775.84" fill="none" stroke="#2f9a12" stroke-width="3.59"/>
<path d="M848.82 807.11 A63.93 63.93 0 0 1 826.96 778.11" fill="none" stroke="#2f9a12" stroke-width="3.59"/>
<path d="M845.17 812.04 A70.07 70.07 0 0 1 821.22 780.26" fill="none" stroke="#2f9a12" stroke-width="2.87"/>
<path d="M991.95 781.52 A73.66 73.66 0 0 1 966.77 814.93 L954.56 798.43 A53.13 53.13 0 0 0 972.72 774.33 Z" fill="#62bd40"/>
<path d="M976.76 775.84 A57.44 57.44 0 0 1 957.12 801.89" fill="none" stroke="#2f9a12" stroke-width="3.59"/>
<path d="M982.84 778.11 A63.93 63.93 0 0 1 960.98 807.11" fill="none" stroke="#2f9a12" stroke-width="3.59"/>
<path d="M988.58 780.26 A70.07 70.07 0 0 1 964.63 812.04" fill="none" stroke="#2f9a12" stroke-width="2.87"/>
<path d="M851.60 742.50 A12 12 0 0 1 863.60 730.50 H946.40 A12 12 0 0 1 958.40 742.50 V773.70 A12 12 0 0 1 946.40 785.70 H863.60 A12 12 0 0 1 851.60 773.70 V742.50" fill="none" stroke="#000" stroke-width="6.7" stroke-dasharray="19.05 16.10 29.00 16.00 25.27 14.48 28.10 13.12 38.72 15.60 29.40 14.15 24.39 16.30 3.70 50.00"/>
<line x1="1008.5" y1="725.8" x2="1008.5" y2="786.3" stroke="#073b13" stroke-width="2.8"/>
<path d="M1008.5 717.4 L1004.0 731.4 L1008.5 727.9 L1013.0 731.4 Z" fill="#073b13"/>
<path d="M1008.5 794.7 L1004.0 780.7 L1008.5 784.2 L1013.0 780.7 Z" fill="#073b13"/>
<text x="1021.6" y="765.3" font-family="Liberation Sans, sans-serif" font-size="25" fill="#0f3318" text-anchor="start" textLength="20.7" lengthAdjust="spacingAndGlyphs">2'</text>
<line x1="856.4" y1="841.1" x2="954.3" y2="841.1" stroke="#073b13" stroke-width="2.8"/>
<path d="M848.0 841.1 L862.0 845.6 L858.5 841.1 L862.0 836.6 Z" fill="#073b13"/>
<path d="M962.7 841.1 L948.7 845.6 L952.2 841.1 L948.7 836.6 Z" fill="#073b13"/>
<text x="883.2" y="879.8" font-family="Liberation Sans, sans-serif" font-size="25" fill="#0f3318" text-anchor="start" textLength="46.4" lengthAdjust="spacingAndGlyphs">3.5'</text>
<path d="M1172.14 729.39 A73.66 73.66 0 0 1 1200.67 698.79 L1211.09 716.48 A53.13 53.13 0 0 0 1190.51 738.55 Z" fill="#62bd40"/>
<path d="M1186.65 736.62 A57.44 57.44 0 0 1 1208.90 712.76" fill="none" stroke="#2f9a12" stroke-width="3.59"/>
<path d="M1180.84 733.73 A63.93 63.93 0 0 1 1205.61 707.17" fill="none" stroke="#2f9a12" stroke-width="3.59"/>
<path d="M1175.35 730.99 A70.07 70.07 0 0 1 1202.49 701.88" fill="none" stroke="#2f9a12" stroke-width="2.87"/>
<path d="M1261.33 698.79 A73.66 73.66 0 0 1 1289.86 729.39 L1271.49 738.55 A53.13 53.13 0 0 0 1250.91 716.48 Z" fill="#62bd40"/>
<path d="M1253.10 712.76 A57.44 57.44 0 0 1 1275.35 736.62" fill="none" stroke="#2f9a12" stroke-width="3.59"/>
<path d="M1256.39 707.17 A63.93 63.93 0 0 1 1281.16 733.73" fill="none" stroke="#2f9a12" stroke-width="3.59"/>
<path d="M1259.51 701.88 A70.07 70.07 0 0 1 1286.65 730.99" fill="none" stroke="#2f9a12" stroke-width="2.87"/>
<path d="M1200.67 814.41 A73.66 73.66 0 0 1 1172.14 783.81 L1190.51 774.65 A53.13 53.13 0 0 0 1211.09 796.72 Z" fill="#62bd40"/>
<path d="M1208.90 800.44 A57.44 57.44 0 0 1 1186.65 776.58" fill="none" stroke="#2f9a12" stroke-width="3.59"/>
<path d="M1205.61 806.03 A63.93 63.93 0 0 1 1180.84 779.47" fill="none" stroke="#2f9a12" stroke-width="3.59"/>
<path d="M1202.49 811.32 A70.07 70.07 0 0 1 1175.35 782.21" fill="none" stroke="#2f9a12" stroke-width="2.87"/>
<path d="M1289.86 783.81 A73.66 73.66 0 0 1 1261.33 814.41 L1250.91 796.72 A53.13 53.13 0 0 0 1271.49 774.65 Z" fill="#62bd40"/>
<path d="M1275.35 776.58 A57.44 57.44 0 0 1 1253.10 800.44" fill="none" stroke="#2f9a12" stroke-width="3.59"/>
<path d="M1281.16 779.47 A63.93 63.93 0 0 1 1256.39 806.03" fill="none" stroke="#2f9a12" stroke-width="3.59"/>
<path d="M1286.65 782.21 A70.07 70.07 0 0 1 1259.51 811.32" fill="none" stroke="#2f9a12" stroke-width="2.87"/>
<path d="M1202.40 741.20 A12 12 0 0 1 1214.40 729.20 H1246.90 A12 12 0 0 1 1258.90 741.20 V773.60 A12 12 0 0 1 1246.90 785.60 H1214.40 A12 12 0 0 1 1202.40 773.60 V741.20" fill="none" stroke="#000" stroke-width="6.5" stroke-dasharray="22.65 15.50 23.57 15.28 28.50 10.55 34.10 13.22 25.72 15.50 0.60 50.00"/>
<line x1="1306.2" y1="727.7" x2="1306.2" y2="788.2" stroke="#073b13" stroke-width="2.8"/>
<path d="M1306.2 719.3 L1301.7 733.3 L1306.2 729.8 L1310.7 733.3 Z" fill="#073b13"/>
<path d="M1306.2 796.6 L1301.7 782.6 L1306.2 786.1 L1310.7 782.6 Z" fill="#073b13"/>
<text x="1319.3" y="766.7" font-family="Liberation Sans, sans-serif" font-size="25" fill="#0f3318" text-anchor="start" textLength="21.1" lengthAdjust="spacingAndGlyphs">2'</text>
<line x1="1200.6" y1="828.9" x2="1261.1" y2="828.9" stroke="#073b13" stroke-width="2.8"/>
<path d="M1192.2 828.9 L1206.2 833.4 L1202.7 828.9 L1206.2 824.4 Z" fill="#073b13"/>
<path d="M1269.5 828.9 L1255.5 833.4 L1259.0 828.9 L1255.5 824.4 Z" fill="#073b13"/>
<text x="1220.7" y="859.1" font-family="Liberation Sans, sans-serif" font-size="25" fill="#0f3318" text-anchor="start" textLength="21.1" lengthAdjust="spacingAndGlyphs">2'</text>
<path d="M-10.0 936.35 L9.2 942.03 L28.5 947.36 L47.7 952.36 L67.0 957.06 L86.2 961.47 L105.4 965.63 L124.7 969.54 L143.9 973.22 L163.2 976.69 L182.4 979.97 L201.6 983.07 L220.9 986.00 L240.1 988.77 L259.4 991.39 L278.6 993.87 L297.8 996.21 L317.1 998.43 L336.3 1000.54 L355.6 1002.53 L374.8 1004.41 L394.1 1006.18 L413.3 1007.86 L432.5 1009.43 L451.8 1010.91 L471.0 1012.30 L490.3 1013.60 L509.5 1014.81 L528.7 1015.93 L548.0 1016.96 L567.2 1017.91 L586.5 1018.77 L605.7 1019.54 L624.9 1020.23 L644.2 1020.83 L663.4 1021.34 L682.7 1021.77 L701.9 1022.12 L721.1 1022.38 L740.4 1022.55 L759.6 1022.63 L778.9 1022.63 L798.1 1022.54 L817.3 1022.36 L836.6 1022.09 L855.8 1021.73 L875.1 1021.28 L894.3 1020.75 L913.5 1020.12 L932.8 1019.40 L952.0 1018.59 L971.3 1017.69 L990.5 1016.70 L1009.7 1015.61 L1029.0 1014.42 L1048.2 1013.14 L1067.5 1011.76 L1086.7 1010.27 L1105.9 1008.69 L1125.2 1007.00 L1144.4 1005.20 L1163.7 1003.30 L1182.9 1001.27 L1202.2 999.13 L1221.4 996.87 L1240.6 994.47 L1259.9 991.94 L1279.1 989.27 L1298.4 986.46 L1317.6 983.48 L1336.8 980.34 L1356.1 977.02 L1375.3 973.51 L1394.6 969.81 L1413.8 965.89 L1433.0 961.74 L1452.3 957.35 L1471.5 952.70 L1490.8 947.77 L1510.0 942.54 L1510 1460 L-10 1460 Z" fill="#3b9515"/>
<path d="M-10.0 916.35 L9.2 922.03 L28.5 927.36 L47.7 932.36 L67.0 937.06 L86.2 941.47 L105.4 945.63 L124.7 949.54 L143.9 953.22 L163.2 956.69 L182.4 959.97 L201.6 963.07 L220.9 966.00 L240.1 968.77 L259.4 971.39 L278.6 973.87 L297.8 976.21 L317.1 978.43 L336.3 980.54 L355.6 982.53 L374.8 984.41 L394.1 986.18 L413.3 987.86 L432.5 989.43 L451.8 990.91 L471.0 992.30 L490.3 993.60 L509.5 994.81 L528.7 995.93 L548.0 996.96 L567.2 997.91 L586.5 998.77 L605.7 999.54 L624.9 1000.23 L644.2 1000.83 L663.4 1001.34 L682.7 1001.77 L701.9 1002.12 L721.1 1002.38 L740.4 1002.55 L759.6 1002.63 L778.9 1002.63 L798.1 1002.54 L817.3 1002.36 L836.6 1002.09 L855.8 1001.73 L875.1 1001.28 L894.3 1000.75 L913.5 1000.12 L932.8 999.40 L952.0 998.59 L971.3 997.69 L990.5 996.70 L1009.7 995.61 L1029.0 994.42 L1048.2 993.14 L1067.5 991.76 L1086.7 990.27 L1105.9 988.69 L1125.2 987.00 L1144.4 985.20 L1163.7 983.30 L1182.9 981.27 L1202.2 979.13 L1221.4 976.87 L1240.6 974.47 L1259.9 971.94 L1279.1 969.27 L1298.4 966.46 L1317.6 963.48 L1336.8 960.34 L1356.1 957.02 L1375.3 953.51 L1394.6 949.81 L1413.8 945.89 L1433.0 941.74 L1452.3 937.35 L1471.5 932.70 L1490.8 927.77 L1510.0 922.54" fill="none" stroke="#d3ecca" stroke-width="8.8"/>
<path d="M-10.0 924.85 L9.2 930.53 L28.5 935.86 L47.7 940.86 L67.0 945.56 L86.2 949.97 L105.4 954.13 L124.7 958.04 L143.9 961.72 L163.2 965.19 L182.4 968.47 L201.6 971.57 L220.9 974.50 L240.1 977.27 L259.4 979.89 L278.6 982.37 L297.8 984.71 L317.1 986.93 L336.3 989.04 L355.6 991.03 L374.8 992.91 L394.1 994.68 L413.3 996.36 L432.5 997.93 L451.8 999.41 L471.0 1000.80 L490.3 1002.10 L509.5 1003.31 L528.7 1004.43 L548.0 1005.46 L567.2 1006.41 L586.5 1007.27 L605.7 1008.04 L624.9 1008.73 L644.2 1009.33 L663.4 1009.84 L682.7 1010.27 L701.9 1010.62 L721.1 1010.88 L740.4 1011.05 L759.6 1011.13 L778.9 1011.13 L798.1 1011.04 L817.3 1010.86 L836.6 1010.59 L855.8 1010.23 L875.1 1009.78 L894.3 1009.25 L913.5 1008.62 L932.8 1007.90 L952.0 1007.09 L971.3 1006.19 L990.5 1005.20 L1009.7 1004.11 L1029.0 1002.92 L1048.2 1001.64 L1067.5 1000.26 L1086.7 998.77 L1105.9 997.19 L1125.2 995.50 L1144.4 993.70 L1163.7 991.80 L1182.9 989.77 L1202.2 987.63 L1221.4 985.37 L1240.6 982.97 L1259.9 980.44 L1279.1 977.77 L1298.4 974.96 L1317.6 971.98 L1336.8 968.84 L1356.1 965.52 L1375.3 962.01 L1394.6 958.31 L1413.8 954.39 L1433.0 950.24 L1452.3 945.85 L1471.5 941.20 L1490.8 936.27 L1510.0 931.04" fill="none" stroke="#0b4c17" stroke-width="8.6"/>
<circle cx="211.4" cy="1192.3" r="114.6" fill="#50a72a"/>
<circle cx="211.4" cy="1192.3" r="105.5" fill="#063f08"/>
<circle cx="211.4" cy="1192.3" r="101.0" fill="#fff"/>
<circle cx="480.85" cy="1192.3" r="114.6" fill="#50a72a"/>
<circle cx="480.85" cy="1192.3" r="105.5" fill="#063f08"/>
<circle cx="480.85" cy="1192.3" r="101.0" fill="#fff"/>
<circle cx="750.1" cy="1192.3" r="114.6" fill="#50a72a"/>
<circle cx="750.1" cy="1192.3" r="105.5" fill="#063f08"/>
<circle cx="750.1" cy="1192.3" r="101.0" fill="#fff"/>
<circle cx="1019.3" cy="1192.3" r="114.6" fill="#50a72a"/>
<circle cx="1019.3" cy="1192.3" r="105.5" fill="#063f08"/>
<circle cx="1019.3" cy="1192.3" r="101.0" fill="#f7f7f7"/>
<circle cx="1289.3" cy="1192.3" r="114.6" fill="#50a72a"/>
<circle cx="1289.3" cy="1192.3" r="105.5" fill="#063f08"/>
<circle cx="1289.3" cy="1192.3" r="101.0" fill="#fff"/>
<g>
<path d="M148.92 1123.80 L277.86 1142.20 L277.83 1145.20 L148.72 1126.68 Z" fill="#b7c89b"/>
<path d="M148.96 1125.24 L277.74 1143.70 L278.11 1146.70 L148.22 1128.11 Z" fill="#b7c89b"/>
<path d="M148.72 1126.68 L277.83 1145.20 L278.53 1148.20 L147.54 1129.55 Z" fill="#b7c89b"/>
<path d="M148.22 1128.11 L278.11 1146.70 L279.02 1149.69 L146.76 1130.99 Z" fill="#b7c89b"/>
<path d="M147.54 1129.55 L278.53 1148.20 L279.50 1151.19 L145.99 1132.43 Z" fill="#b8c99d"/>
<path d="M146.76 1130.99 L279.02 1149.69 L279.90 1152.69 L145.35 1133.87 Z" fill="#bbcba0"/>
<path d="M145.99 1132.43 L279.50 1151.19 L280.13 1154.19 L144.91 1135.30 Z" fill="#becea3"/>
<path d="M145.35 1133.87 L279.90 1152.69 L280.17 1155.69 L144.74 1136.74 Z" fill="#becea4"/>
<path d="M144.91 1135.30 L280.13 1154.19 L279.99 1157.19 L144.86 1138.18 Z" fill="#bbcca0"/>
<path d="M144.74 1136.74 L280.17 1155.69 L279.61 1158.69 L145.25 1139.62 Z" fill="#b9c99d"/>
<path d="M144.86 1138.18 L279.99 1157.19 L279.07 1160.19 L145.84 1141.06 Z" fill="#b7c89b"/>
<path d="M145.25 1139.62 L279.61 1158.69 L278.45 1161.68 L146.55 1142.50 Z" fill="#b6c79a"/>
<path d="M145.84 1141.06 L279.07 1160.19 L277.81 1163.18 L147.27 1143.93 Z" fill="#b4c698"/>
<path d="M146.55 1142.50 L278.45 1161.68 L277.25 1164.68 L147.90 1145.37 Z" fill="#afc293"/>
<path d="M147.27 1143.93 L277.81 1163.18 L276.84 1166.18 L148.33 1146.81 Z" fill="#a6b98a"/>
<path d="M147.90 1145.37 L277.25 1164.68 L276.61 1167.68 L148.51 1148.25 Z" fill="#99ae7d"/>
<path d="M148.33 1146.81 L276.84 1166.18 L276.60 1169.18 L148.40 1149.69 Z" fill="#8ea472"/>
<path d="M148.51 1148.25 L276.61 1167.68 L276.80 1170.68 L148.01 1151.12 Z" fill="#8ba26f"/>
<path d="M148.40 1149.69 L276.60 1169.18 L277.16 1172.18 L147.40 1152.56 Z" fill="#93a977"/>
<path d="M148.01 1151.12 L276.80 1170.68 L277.63 1173.67 L146.66 1154.00 Z" fill="#a0b484"/>
<path d="M147.40 1152.56 L277.16 1172.18 L278.13 1175.17 L145.87 1155.44 Z" fill="#adbf91"/>
<path d="M146.66 1154.00 L277.63 1173.67 L278.57 1176.67 L145.16 1156.88 Z" fill="#b6c79b"/>
<path d="M145.87 1155.44 L278.13 1175.17 L278.89 1178.17 L144.61 1158.31 Z" fill="#bccca1"/>
<path d="M145.16 1156.88 L278.57 1176.67 L279.02 1179.67 L144.32 1159.75 Z" fill="#becea4"/>
<path d="M144.61 1158.31 L278.89 1178.17 L278.94 1181.17 L144.30 1161.19 Z" fill="#bdcda2"/>
<path d="M144.32 1159.75 L279.02 1179.67 L278.65 1182.67 L144.57 1162.63 Z" fill="#baca9e"/>
<path d="M144.30 1161.19 L278.94 1181.17 L278.18 1184.17 L145.07 1164.07 Z" fill="#b8c99c"/>
<path d="M144.57 1162.63 L278.65 1182.67 L277.59 1185.67 L145.74 1165.50 Z" fill="#b7c89b"/>
<path d="M145.07 1164.07 L278.18 1184.17 L276.95 1187.16 L146.47 1166.94 Z" fill="#b6c79a"/>
<path d="M145.74 1165.50 L277.59 1185.67 L276.34 1188.66 L147.15 1168.38 Z" fill="#b2c496"/>
<path d="M146.47 1166.94 L276.95 1187.16 L275.85 1190.16 L147.69 1169.82 Z" fill="#abbe8f"/>
<path d="M147.15 1168.38 L276.34 1188.66 L275.53 1191.66 L147.99 1171.26 Z" fill="#9fb383"/>
<path d="M147.69 1169.82 L275.85 1190.16 L275.42 1193.16 L148.01 1172.70 Z" fill="#92a876"/>
<path d="M147.99 1171.26 L275.53 1191.66 L275.53 1194.66 L147.75 1174.13 Z" fill="#8ba26f"/>
<path d="M148.01 1172.70 L275.42 1193.16 L275.82 1196.16 L147.24 1175.57 Z" fill="#8fa573"/>
<path d="M147.75 1174.13 L275.53 1194.66 L276.25 1197.66 L146.54 1177.01 Z" fill="#9aaf7e"/>
<path d="M147.24 1175.57 L275.82 1196.16 L276.75 1199.15 L145.76 1178.45 Z" fill="#a7ba8c"/>
<path d="M146.54 1177.01 L276.25 1197.66 L277.22 1200.65 L145.00 1179.89 Z" fill="#b2c496"/>
<path d="M145.76 1178.45 L276.75 1199.15 L277.61 1202.15 L144.37 1181.32 Z" fill="#baca9f"/>
<path d="M145.00 1179.89 L277.22 1200.65 L277.83 1203.65 L143.95 1182.76 Z" fill="#bdcda3"/>
<path d="M144.37 1181.32 L277.61 1202.15 L277.85 1205.15 L143.80 1184.20 Z" fill="#becea3"/>
<path d="M143.95 1182.76 L277.83 1203.65 L277.65 1206.65 L143.94 1185.64 Z" fill="#bbcba0"/>
<path d="M143.80 1184.20 L277.85 1205.15 L277.26 1208.15 L144.34 1187.08 Z" fill="#b8c99d"/>
<path d="M143.94 1185.64 L277.65 1206.65 L276.71 1209.65 L144.95 1188.51 Z" fill="#b7c89b"/>
<path d="M144.34 1187.08 L277.26 1208.15 L276.09 1211.15 L145.66 1189.95 Z" fill="#b6c79a"/>
<path d="M144.95 1188.51 L276.71 1209.65 L275.46 1212.64 L146.38 1191.39 Z" fill="#b4c698"/>
<path d="M145.66 1189.95 L276.09 1211.15 L274.90 1214.14 L146.99 1192.83 Z" fill="#afc193"/>
<path d="M146.38 1191.39 L275.46 1212.64 L274.50 1215.64 L147.41 1194.27 Z" fill="#a5b889"/>
<path d="M146.99 1192.83 L274.90 1214.14 L274.29 1217.14 L147.57 1195.70 Z" fill="#98ad7c"/>
<path d="M147.41 1194.27 L274.50 1215.64 L274.30 1218.64 L147.44 1197.14 Z" fill="#8da471"/>
<path d="M147.57 1195.70 L274.29 1217.14 L274.51 1220.14 L147.04 1198.58 Z" fill="#8ca370"/>
<path d="M147.44 1197.14 L274.30 1218.64 L274.88 1221.64 L146.41 1200.02 Z" fill="#94aa78"/>
<path d="M147.04 1198.58 L274.51 1220.14 L275.36 1223.14 L145.66 1201.46 Z" fill="#a1b585"/>
<path d="M146.41 1200.02 L274.88 1221.64 L275.85 1224.63 L144.87 1202.90 Z" fill="#aec092"/>
<path d="M145.66 1201.46 L275.36 1223.14 L276.29 1226.13 L144.17 1204.33 Z" fill="#b6c89b"/>
<path d="M144.87 1202.90 L275.85 1224.63 L276.59 1227.63 L143.64 1205.77 Z" fill="#bccca1"/>
<path d="M144.17 1204.33 L276.29 1226.13 L276.71 1229.13 L143.36 1207.21 Z" fill="#becea4"/>
<path d="M143.64 1205.77 L276.59 1227.63 L276.61 1230.63 L143.37 1208.65 Z" fill="#bccda2"/>
<path d="M143.36 1207.21 L276.71 1229.13 L276.31 1232.13 L143.66 1210.09 Z" fill="#b9ca9e"/>
<path d="M143.37 1208.65 L276.61 1230.63 L275.83 1233.63 L144.18 1211.52 Z" fill="#b8c99c"/>
<path d="M143.66 1210.09 L276.31 1232.13 L275.23 1235.13 L144.85 1212.96 Z" fill="#b7c89b"/>
<path d="M144.18 1211.52 L275.83 1233.63 L274.59 1236.62 L145.58 1214.40 Z" fill="#b5c799"/>
<path d="M144.85 1212.96 L275.23 1235.13 L273.99 1238.12 L146.26 1215.84 Z" fill="#b2c496"/>
<path d="M145.58 1214.40 L274.59 1236.62 L273.51 1239.62 L146.78 1217.28 Z" fill="#aabd8e"/>
<path d="M146.26 1215.84 L273.99 1238.12 L273.21 1241.12 L147.06 1218.71 Z" fill="#9eb282"/>
<path d="M146.78 1217.28 L273.51 1239.62 L273.11 1242.62 L147.06 1220.15 Z" fill="#91a875"/>
<path d="M147.06 1218.71 L273.21 1241.12 L273.23 1244.12 L146.78 1221.59 Z" fill="#8ba26f"/>
<path d="M147.06 1220.15 L273.11 1242.62 L273.53 1245.62 L146.25 1223.03 Z" fill="#8fa673"/>
<path d="M146.78 1221.59 L273.23 1244.12 L273.97 1247.12 L145.55 1224.47 Z" fill="#9bb07f"/>
<path d="M146.25 1223.03 L273.53 1245.62 L274.47 1248.62 L144.76 1225.90 Z" fill="#a9bb8d"/>
<path d="M145.55 1224.47 L273.97 1247.12 L274.94 1250.11 L144.01 1227.34 Z" fill="#b3c497"/>
<path d="M144.76 1225.90 L274.47 1248.62 L275.32 1251.61 L143.39 1228.78 Z" fill="#baca9f"/>
<path d="M144.01 1227.34 L274.94 1250.11 L275.53 1253.11 L142.99 1230.22 Z" fill="#bdcea3"/>
<path d="M143.39 1228.78 L275.32 1251.61 L275.53 1254.61 L142.86 1231.66 Z" fill="#becda3"/>
<path d="M142.99 1230.22 L275.53 1253.11 L275.32 1256.11 L143.02 1233.10 Z" fill="#bbcba0"/>
<path d="M142.86 1231.66 L275.53 1254.61 L274.91 1257.61 L143.44 1234.53 Z" fill="#b8c99d"/>
<path d="M143.02 1233.10 L275.32 1256.11 L274.36 1259.11 L144.05 1235.97 Z" fill="#b7c89b"/>
<path d="M143.44 1234.53 L274.91 1257.61 L273.73 1260.61 L144.77 1237.41 Z" fill="#b7c89b"/>
<path d="M144.05 1235.97 L274.36 1259.11 L273.10 1262.10 L145.49 1238.85 Z" fill="#b6c79a"/>
<path d="M144.77 1237.41 L273.73 1260.61 L272.56 1263.60 L146.09 1240.29 Z" fill="#b3c597"/>
<path d="M145.49 1238.85 L273.10 1262.10 L272.17 1265.10 L146.49 1241.72 Z" fill="#afc193"/>
<path d="M146.09 1240.29 L272.56 1263.60 L271.97 1266.60 L146.63 1243.16 Z" fill="#a9bc8d"/>
<path d="M146.49 1241.72 L272.17 1265.10 L271.99 1268.10 L146.48 1244.60 Z" fill="#a4b888"/>
<path d="M146.63 1243.16 L271.97 1266.60 L271.99 1268.10 L146.48 1244.60 Z" fill="#a4b788"/>
</g>
<g>
<path d="M407.03 1132.20 Q479.60 1138.20 552.17 1132.20 L551.81 1134.96 Q479.60 1141.07 407.39 1134.96 Z" fill="#ced8ba"/>
<path d="M407.34 1133.58 Q479.60 1139.63 551.86 1133.58 L552.03 1136.34 Q479.60 1142.50 407.17 1136.34 Z" fill="#ccd7b8"/>
<path d="M407.39 1134.96 Q479.60 1141.07 551.81 1134.96 L552.49 1137.72 Q479.60 1143.93 406.71 1137.72 Z" fill="#cdd8b9"/>
<path d="M407.17 1136.34 Q479.60 1142.50 552.03 1136.34 L553.10 1139.10 Q479.60 1145.37 406.10 1139.10 Z" fill="#cfdabb"/>
<path d="M406.71 1137.72 Q479.60 1143.93 552.49 1137.72 L553.76 1140.49 Q479.60 1146.80 405.44 1140.49 Z" fill="#d1dbbd"/>
<path d="M406.10 1139.10 Q479.60 1145.37 553.10 1139.10 L554.36 1141.87 Q479.60 1148.23 404.84 1141.87 Z" fill="#d2ddbe"/>
<path d="M405.44 1140.49 Q479.60 1146.80 553.76 1140.49 L554.79 1143.25 Q479.60 1149.67 404.41 1143.25 Z" fill="#d3ddbf"/>
<path d="M404.84 1141.87 Q479.60 1148.23 554.36 1141.87 L554.99 1144.63 Q479.60 1151.10 404.21 1144.63 Z" fill="#d3ddbf"/>
<path d="M404.41 1143.25 Q479.60 1149.67 554.79 1143.25 L554.92 1146.01 Q479.60 1152.53 404.28 1146.01 Z" fill="#d4dec0"/>
<path d="M404.21 1144.63 Q479.60 1151.10 554.99 1144.63 L554.59 1147.39 Q479.60 1153.97 404.61 1147.39 Z" fill="#d9e2c6"/>
<path d="M404.28 1146.01 Q479.60 1152.53 554.92 1146.01 L554.06 1148.77 Q479.60 1155.40 405.14 1148.77 Z" fill="#dfe7cf"/>
<path d="M404.61 1147.39 Q479.60 1153.97 554.59 1147.39 L553.41 1150.15 Q479.60 1156.83 405.79 1150.15 Z" fill="#dee7ce"/>
<path d="M405.14 1148.77 Q479.60 1155.40 554.06 1148.77 L552.77 1151.53 Q479.60 1158.27 406.43 1151.53 Z" fill="#d6dfc3"/>
<path d="M405.79 1150.15 Q479.60 1156.83 553.41 1150.15 L552.23 1152.91 Q479.60 1159.70 406.97 1152.91 Z" fill="#cdd8b9"/>
<path d="M406.43 1151.53 Q479.60 1158.27 552.77 1151.53 L551.89 1154.30 Q479.60 1161.13 407.31 1154.30 Z" fill="#c1cdad"/>
<path d="M406.97 1152.91 Q479.60 1159.70 552.23 1152.91 L551.81 1155.68 Q479.60 1162.57 407.39 1155.68 Z" fill="#b2c09d"/>
<path d="M407.31 1154.30 Q479.60 1161.13 551.89 1154.30 L551.99 1157.06 Q479.60 1164.00 407.21 1157.06 Z" fill="#a8b793"/>
<path d="M407.39 1155.68 Q479.60 1162.57 551.81 1155.68 L552.42 1158.44 Q479.60 1165.43 406.78 1158.44 Z" fill="#abb996"/>
<path d="M407.21 1157.06 Q479.60 1164.00 551.99 1157.06 L553.02 1159.82 Q479.60 1166.87 406.18 1159.82 Z" fill="#b8c5a4"/>
<path d="M406.78 1158.44 Q479.60 1165.43 552.42 1158.44 L553.68 1161.20 Q479.60 1168.30 405.52 1161.20 Z" fill="#c6d2b2"/>
<path d="M406.18 1159.82 Q479.60 1166.87 553.02 1159.82 L554.29 1162.58 Q479.60 1169.73 404.91 1162.58 Z" fill="#cfd9bb"/>
<path d="M405.52 1161.20 Q479.60 1168.30 553.68 1161.20 L554.75 1163.96 Q479.60 1171.17 404.45 1163.96 Z" fill="#d2dcbe"/>
<path d="M404.91 1162.58 Q479.60 1169.73 554.29 1162.58 L554.98 1165.34 Q479.60 1172.60 404.22 1165.34 Z" fill="#d3ddbf"/>
<path d="M404.45 1163.96 Q479.60 1171.17 554.75 1163.96 L554.94 1166.72 Q479.60 1174.03 404.26 1166.72 Z" fill="#d4dec0"/>
<path d="M404.22 1165.34 Q479.60 1172.60 554.98 1165.34 L554.64 1168.10 Q479.60 1175.47 404.56 1168.10 Z" fill="#d8e1c5"/>
<path d="M404.26 1166.72 Q479.60 1174.03 554.94 1166.72 L554.13 1169.49 Q479.60 1176.90 405.07 1169.49 Z" fill="#dfe7ce"/>
<path d="M404.56 1168.10 Q479.60 1175.47 554.64 1168.10 L553.49 1170.87 Q479.60 1178.33 405.71 1170.87 Z" fill="#dfe7cf"/>
<path d="M405.07 1169.49 Q479.60 1176.90 554.13 1169.49 L552.84 1172.25 Q479.60 1179.77 406.36 1172.25 Z" fill="#d7e1c4"/>
<path d="M405.71 1170.87 Q479.60 1178.33 553.49 1170.87 L552.28 1173.63 Q479.60 1181.20 406.92 1173.63 Z" fill="#ced9ba"/>
<path d="M406.36 1172.25 Q479.60 1179.77 552.84 1172.25 L551.92 1175.01 Q479.60 1182.63 407.28 1175.01 Z" fill="#c3cfae"/>
<path d="M406.92 1173.63 Q479.60 1181.20 552.28 1173.63 L551.80 1176.39 Q479.60 1184.07 407.40 1176.39 Z" fill="#b4c19f"/>
<path d="M407.28 1175.01 Q479.60 1182.63 551.92 1175.01 L551.96 1177.77 Q479.60 1185.50 407.24 1177.77 Z" fill="#a8b793"/>
<path d="M407.40 1176.39 Q479.60 1184.07 551.80 1176.39 L552.36 1179.15 Q479.60 1186.93 406.84 1179.15 Z" fill="#a9b895"/>
<path d="M407.24 1177.77 Q479.60 1185.50 551.96 1177.77 L552.94 1180.53 Q479.60 1188.37 406.26 1180.53 Z" fill="#b6c4a2"/>
<path d="M406.84 1179.15 Q479.60 1186.93 552.36 1179.15 L553.60 1181.91 Q479.60 1189.80 405.60 1181.91 Z" fill="#c5d0b1"/>
<path d="M406.26 1180.53 Q479.60 1188.37 552.94 1180.53 L554.22 1183.30 Q479.60 1191.23 404.98 1183.30 Z" fill="#ced9ba"/>
<path d="M405.60 1181.91 Q479.60 1189.80 553.60 1181.91 L554.71 1184.68 Q479.60 1192.67 404.49 1184.68 Z" fill="#d2dcbe"/>
<path d="M404.98 1183.30 Q479.60 1191.23 554.22 1183.30 L554.97 1186.06 Q479.60 1194.10 404.23 1186.06 Z" fill="#d3ddbf"/>
<path d="M404.49 1184.68 Q479.60 1192.67 554.71 1184.68 L554.96 1187.44 Q479.60 1195.53 404.24 1187.44 Z" fill="#d4dec0"/>
<path d="M404.23 1186.06 Q479.60 1194.10 554.97 1186.06 L554.69 1188.82 Q479.60 1196.97 404.51 1188.82 Z" fill="#d7e0c4"/>
<path d="M404.24 1187.44 Q479.60 1195.53 554.96 1187.44 L554.20 1190.20 Q479.60 1198.40 405.00 1190.20 Z" fill="#dee6cd"/>
<path d="M404.51 1188.82 Q479.60 1196.97 554.69 1188.82 L553.57 1191.58 Q479.60 1199.83 405.63 1191.58 Z" fill="#e0e8d0"/>
<path d="M405.00 1190.20 Q479.60 1198.40 554.20 1190.20 L552.92 1192.96 Q479.60 1201.27 406.28 1192.96 Z" fill="#d8e1c6"/>
<path d="M405.63 1191.58 Q479.60 1199.83 553.57 1191.58 L552.34 1194.34 Q479.60 1202.70 406.86 1194.34 Z" fill="#cfd9bc"/>
<path d="M406.28 1192.96 Q479.60 1201.27 552.92 1192.96 L551.95 1195.72 Q479.60 1204.13 407.25 1195.72 Z" fill="#c4d0b0"/>
<path d="M406.86 1194.34 Q479.60 1202.70 552.34 1194.34 L551.80 1197.10 Q479.60 1205.57 407.40 1197.10 Z" fill="#b6c3a1"/>
<path d="M407.25 1195.72 Q479.60 1204.13 551.95 1195.72 L551.93 1198.49 Q479.60 1207.00 407.27 1198.49 Z" fill="#a9b894"/>
<path d="M407.40 1197.10 Q479.60 1205.57 551.80 1197.10 L552.30 1199.87 Q479.60 1208.43 406.90 1199.87 Z" fill="#a9b794"/>
<path d="M407.27 1198.49 Q479.60 1207.00 551.93 1198.49 L552.87 1201.25 Q479.60 1209.87 406.33 1201.25 Z" fill="#b4c2a0"/>
<path d="M406.90 1199.87 Q479.60 1208.43 552.30 1199.87 L553.52 1202.63 Q479.60 1211.30 405.68 1202.63 Z" fill="#c3cfaf"/>
<path d="M406.33 1201.25 Q479.60 1209.87 552.87 1201.25 L554.15 1204.01 Q479.60 1212.73 405.05 1204.01 Z" fill="#cdd8b9"/>
<path d="M405.68 1202.63 Q479.60 1211.30 553.52 1202.63 L554.66 1205.39 Q479.60 1214.17 404.54 1205.39 Z" fill="#d2dcbd"/>
<path d="M405.05 1204.01 Q479.60 1212.73 554.15 1204.01 L554.95 1206.77 Q479.60 1215.60 404.25 1206.77 Z" fill="#d3ddbf"/>
<path d="M404.54 1205.39 Q479.60 1214.17 554.66 1205.39 L554.98 1208.15 Q479.60 1217.03 404.22 1208.15 Z" fill="#d3ddc0"/>
<path d="M404.25 1206.77 Q479.60 1215.60 554.95 1206.77 L554.74 1209.53 Q479.60 1218.47 404.46 1209.53 Z" fill="#d6e0c3"/>
<path d="M404.22 1208.15 Q479.60 1217.03 554.98 1208.15 L554.27 1210.91 Q479.60 1219.90 404.93 1210.91 Z" fill="#dde6cc"/>
<path d="M404.46 1209.53 Q479.60 1218.47 554.74 1209.53 L553.65 1212.30 Q479.60 1221.33 405.55 1212.30 Z" fill="#e0e8d0"/>
<path d="M404.93 1210.91 Q479.60 1219.90 554.27 1210.91 L552.99 1213.68 Q479.60 1222.77 406.21 1213.68 Z" fill="#d9e2c7"/>
<path d="M405.55 1212.30 Q479.60 1221.33 553.65 1212.30 L552.40 1215.06 Q479.60 1224.20 406.80 1215.06 Z" fill="#d1dabc"/>
<path d="M406.21 1213.68 Q479.60 1222.77 552.99 1213.68 L551.98 1216.44 Q479.60 1225.63 407.22 1216.44 Z" fill="#c6d1b2"/>
<path d="M406.80 1215.06 Q479.60 1224.20 552.40 1215.06 L551.80 1217.82 Q479.60 1227.07 407.40 1217.82 Z" fill="#b8c5a3"/>
<path d="M407.22 1216.44 Q479.60 1225.63 551.98 1216.44 L551.90 1219.20 Q479.60 1228.50 407.30 1219.20 Z" fill="#aab995"/>
<path d="M407.40 1217.82 Q479.60 1227.07 551.80 1217.82 L552.25 1220.58 Q479.60 1229.93 406.95 1220.58 Z" fill="#a8b793"/>
<path d="M407.30 1219.20 Q479.60 1228.50 551.90 1219.20 L552.79 1221.96 Q479.60 1231.37 406.41 1221.96 Z" fill="#b3c09e"/>
<path d="M406.95 1220.58 Q479.60 1229.93 552.25 1220.58 L553.44 1223.34 Q479.60 1232.80 405.76 1223.34 Z" fill="#c2cead"/>
<path d="M406.41 1221.96 Q479.60 1231.37 552.79 1221.96 L554.08 1224.72 Q479.60 1234.23 405.12 1224.72 Z" fill="#ccd7b8"/>
<path d="M405.76 1223.34 Q479.60 1232.80 553.44 1223.34 L554.61 1226.10 Q479.60 1235.67 404.59 1226.10 Z" fill="#d1dbbd"/>
<path d="M405.12 1224.72 Q479.60 1234.23 554.08 1224.72 L554.93 1227.49 Q479.60 1237.10 404.27 1227.49 Z" fill="#d3ddbf"/>
<path d="M404.59 1226.10 Q479.60 1235.67 554.61 1226.10 L554.99 1228.87 Q479.60 1238.53 404.21 1228.87 Z" fill="#d3ddbf"/>
<path d="M404.27 1227.49 Q479.60 1237.10 554.93 1227.49 L554.78 1230.25 Q479.60 1239.97 404.42 1230.25 Z" fill="#d6dfc3"/>
<path d="M404.21 1228.87 Q479.60 1238.53 554.99 1228.87 L554.33 1231.63 Q479.60 1241.40 404.87 1231.63 Z" fill="#dce5cb"/>
<path d="M404.42 1230.25 Q479.60 1239.97 554.78 1230.25 L553.73 1233.01 Q479.60 1242.83 405.47 1233.01 Z" fill="#e0e8d0"/>
<path d="M404.87 1231.63 Q479.60 1241.40 554.33 1231.63 L553.07 1234.39 Q479.60 1244.27 406.13 1234.39 Z" fill="#dae3c9"/>
<path d="M405.47 1233.01 Q479.60 1242.83 553.73 1233.01 L552.47 1235.77 Q479.60 1245.70 406.73 1235.77 Z" fill="#d1dcbe"/>
<path d="M406.13 1234.39 Q479.60 1244.27 553.07 1234.39 L552.02 1237.15 Q479.60 1247.13 407.18 1237.15 Z" fill="#c7d3b3"/>
<path d="M406.73 1235.77 Q479.60 1245.70 552.47 1235.77 L551.81 1238.53 Q479.60 1248.57 407.39 1238.53 Z" fill="#b9c6a5"/>
<path d="M407.18 1237.15 Q479.60 1247.13 552.02 1237.15 L551.87 1239.91 Q479.60 1250.00 407.33 1239.91 Z" fill="#abba96"/>
<path d="M407.39 1238.53 Q479.60 1248.57 551.81 1238.53 L552.19 1241.30 Q479.60 1251.43 407.01 1241.30 Z" fill="#a7b692"/>
<path d="M407.33 1239.91 Q479.60 1250.00 551.87 1239.91 L552.72 1242.68 Q479.60 1252.87 406.48 1242.68 Z" fill="#b1bf9c"/>
<path d="M407.01 1241.30 Q479.60 1251.43 552.19 1241.30 L553.36 1244.06 Q479.60 1254.30 405.84 1244.06 Z" fill="#c0ccac"/>
<path d="M406.48 1242.68 Q479.60 1252.87 552.72 1242.68 L554.01 1245.44 Q479.60 1255.73 405.19 1245.44 Z" fill="#ccd6b7"/>
<path d="M405.84 1244.06 Q479.60 1254.30 553.36 1244.06 L554.55 1246.82 Q479.60 1257.17 404.65 1246.82 Z" fill="#d1dbbd"/>
<path d="M405.19 1245.44 Q479.60 1255.73 554.01 1245.44 L554.90 1248.20 Q479.60 1258.60 404.30 1248.20 Z" fill="#d3ddbf"/>
<path d="M404.65 1246.82 Q479.60 1257.17 554.55 1246.82 L554.90 1248.20 Q479.60 1258.60 404.30 1248.20 Z" fill="#d3ddbf"/>
</g>
<path d="M656.7 1212.0 C654.7 1208.2 657.1 1200.9 658.0 1196.0 C658.9 1191.1 660.0 1186.7 662.0 1182.7 C664.0 1178.7 666.4 1174.8 670.0 1172.0 C673.6 1169.2 677.8 1166.6 683.3 1166.0 C688.9 1165.4 696.4 1167.0 703.3 1168.7 C710.2 1170.3 717.0 1174.1 724.7 1175.7 C732.3 1177.4 741.8 1179.0 749.3 1178.4 C756.9 1177.8 762.1 1174.4 770.0 1172.0 C777.9 1169.6 788.7 1165.7 796.7 1164.3 C804.7 1162.8 811.8 1162.3 818.0 1163.3 C824.2 1164.4 830.1 1167.0 834.0 1170.7 C837.9 1174.3 840.4 1180.2 841.3 1185.3 C842.2 1190.4 841.2 1196.9 839.3 1201.3 C837.4 1205.8 834.9 1209.5 830.0 1212.0 C825.1 1214.5 817.8 1216.2 810.0 1216.3 C802.2 1216.4 793.1 1214.3 783.3 1212.7 C773.6 1211.0 760.2 1206.4 751.3 1206.3 C742.4 1206.2 736.9 1209.9 730.0 1212.0 C723.1 1214.1 716.7 1217.1 710.0 1218.7 C703.3 1220.3 696.7 1221.6 690.0 1221.6 C683.3 1221.6 675.6 1220.5 670.0 1218.9 C664.4 1217.3 658.7 1215.8 656.7 1212.0 Z" fill="#161616"/>
<defs><clipPath id="coil"><path d="M656.7 1212.0 C654.7 1208.2 657.1 1200.9 658.0 1196.0 C658.9 1191.1 660.0 1186.7 662.0 1182.7 C664.0 1178.7 666.4 1174.8 670.0 1172.0 C673.6 1169.2 677.8 1166.6 683.3 1166.0 C688.9 1165.4 696.4 1167.0 703.3 1168.7 C710.2 1170.3 717.0 1174.1 724.7 1175.7 C732.3 1177.4 741.8 1179.0 749.3 1178.4 C756.9 1177.8 762.1 1174.4 770.0 1172.0 C777.9 1169.6 788.7 1165.7 796.7 1164.3 C804.7 1162.8 811.8 1162.3 818.0 1163.3 C824.2 1164.4 830.1 1167.0 834.0 1170.7 C837.9 1174.3 840.4 1180.2 841.3 1185.3 C842.2 1190.4 841.2 1196.9 839.3 1201.3 C837.4 1205.8 834.9 1209.5 830.0 1212.0 C825.1 1214.5 817.8 1216.2 810.0 1216.3 C802.2 1216.4 793.1 1214.3 783.3 1212.7 C773.6 1211.0 760.2 1206.4 751.3 1206.3 C742.4 1206.2 736.9 1209.9 730.0 1212.0 C723.1 1214.1 716.7 1217.1 710.0 1218.7 C703.3 1220.3 696.7 1221.6 690.0 1221.6 C683.3 1221.6 675.6 1220.5 670.0 1218.9 C664.4 1217.3 658.7 1215.8 656.7 1212.0 Z"/></clipPath></defs><g clip-path="url(#coil)">
<path d="M749.3 1180.0 C745.2 1179.4 732.8 1178.2 724.7 1176.7 C716.6 1175.1 708.7 1171.8 700.7 1170.7 C692.7 1169.6 683.0 1167.8 676.7 1170.0 C670.3 1172.2 665.0 1181.7 662.7 1184.0" fill="none" stroke="#2c2c2c" stroke-width="1.5" stroke-linecap="round"/>
<path d="M750.7 1180.0 C754.3 1179.1 764.6 1177.0 772.7 1174.7 C780.8 1172.3 790.9 1167.4 799.3 1166.0 C807.8 1164.6 817.0 1164.6 823.3 1166.0 C829.7 1167.4 835.0 1173.2 837.3 1174.7" fill="none" stroke="#2c2c2c" stroke-width="1.5" stroke-linecap="round"/>
<path d="M749.3 1184.1 C745.2 1183.7 732.8 1182.8 724.7 1181.9 C716.6 1181.0 708.7 1179.5 700.7 1178.9 C692.7 1178.3 683.0 1176.5 676.7 1178.2 C670.3 1179.9 665.0 1187.3 662.7 1189.1" fill="none" stroke="#2c2c2c" stroke-width="1.5" stroke-linecap="round"/>
<path d="M750.7 1184.1 C754.3 1183.5 764.6 1182.1 772.7 1180.4 C780.8 1178.8 790.9 1175.3 799.3 1174.2 C807.8 1173.2 817.0 1173.2 823.3 1174.2 C829.7 1175.2 835.0 1179.2 837.3 1180.2" fill="none" stroke="#2c2c2c" stroke-width="1.5" stroke-linecap="round"/>
<path d="M749.3 1188.2 C745.2 1188.0 732.8 1187.3 724.7 1187.1 C716.6 1186.9 708.7 1187.2 700.7 1187.1 C692.7 1187.0 683.0 1185.3 676.7 1186.4 C670.3 1187.6 665.0 1192.9 662.7 1194.2" fill="none" stroke="#444444" stroke-width="1.5" stroke-linecap="round"/>
<path d="M750.7 1188.2 C754.3 1187.9 764.6 1187.2 772.7 1186.2 C780.8 1185.3 790.9 1183.1 799.3 1182.4 C807.8 1181.8 817.0 1181.9 823.3 1182.4 C829.7 1183.0 835.0 1185.2 837.3 1185.8" fill="none" stroke="#444444" stroke-width="1.5" stroke-linecap="round"/>
<path d="M749.3 1192.3 C745.2 1192.3 732.8 1191.8 724.7 1192.3 C716.6 1192.8 708.7 1194.9 700.7 1195.3 C692.7 1195.7 683.0 1194.0 676.7 1194.7 C670.3 1195.3 665.0 1198.6 662.7 1199.3" fill="none" stroke="#303030" stroke-width="1.5" stroke-linecap="round"/>
<path d="M750.7 1192.3 C754.3 1192.3 764.6 1192.3 772.7 1192.0 C780.8 1191.7 790.9 1191.2 799.3 1190.7 C807.8 1190.1 817.0 1188.6 823.3 1188.7 C829.7 1188.8 835.0 1190.9 837.3 1191.3" fill="none" stroke="#303030" stroke-width="1.5" stroke-linecap="round"/>
<path d="M749.3 1196.4 C745.2 1196.6 732.8 1196.4 724.7 1197.6 C716.6 1198.7 708.7 1202.3 700.7 1203.6 C692.7 1204.8 683.0 1204.7 676.7 1204.9 C670.3 1205.0 665.0 1204.5 662.7 1204.4" fill="none" stroke="#3a3a3a" stroke-width="1.5" stroke-linecap="round"/>
<path d="M750.7 1196.4 C754.3 1196.7 764.6 1197.4 772.7 1197.8 C780.8 1198.2 790.9 1199.0 799.3 1198.9 C807.8 1198.7 817.0 1197.2 823.3 1196.9 C829.7 1196.6 835.0 1196.9 837.3 1196.9" fill="none" stroke="#3a3a3a" stroke-width="1.5" stroke-linecap="round"/>
<path d="M749.3 1200.6 C745.2 1200.9 732.8 1200.9 724.7 1202.8 C716.6 1204.6 708.7 1210.1 700.7 1211.8 C692.7 1213.5 683.0 1213.5 676.7 1213.1 C670.3 1212.7 665.0 1210.1 662.7 1209.6" fill="none" stroke="#3a3a3a" stroke-width="1.5" stroke-linecap="round"/>
<path d="M750.7 1200.6 C754.3 1201.1 764.6 1202.5 772.7 1203.6 C780.8 1204.6 790.9 1206.9 799.3 1207.1 C807.8 1207.4 817.0 1205.9 823.3 1205.1 C829.7 1204.3 835.0 1202.9 837.3 1202.4" fill="none" stroke="#3a3a3a" stroke-width="1.5" stroke-linecap="round"/>
<path d="M749.3 1204.7 C745.2 1205.2 732.8 1205.4 724.7 1208.0 C716.6 1210.6 708.7 1217.8 700.7 1220.0 C692.7 1222.2 683.0 1222.2 676.7 1221.3 C670.3 1220.4 665.0 1215.8 662.7 1214.7" fill="none" stroke="#303030" stroke-width="1.5" stroke-linecap="round"/>
<path d="M750.7 1204.7 C754.3 1205.4 764.6 1207.6 772.7 1209.3 C780.8 1211.1 790.9 1214.7 799.3 1215.3 C807.8 1216.0 817.0 1214.6 823.3 1213.3 C829.7 1212.1 835.0 1208.9 837.3 1208.0" fill="none" stroke="#303030" stroke-width="1.5" stroke-linecap="round"/>
<path d="M666.0 1184.0 C670.0 1183.3 681.6 1180.2 690.0 1180.0 C698.4 1179.8 706.9 1181.8 716.7 1182.7 C726.4 1183.6 743.3 1184.9 748.7 1185.3" fill="none" stroke="#5a5a5a" stroke-width="1.0" stroke-linecap="round"/>
<path d="M664.7 1202.7 C668.9 1201.6 680.9 1197.3 690.0 1196.0 C699.1 1194.7 709.6 1195.1 719.3 1194.7 C729.1 1194.2 743.8 1193.6 748.7 1193.3" fill="none" stroke="#8a8a8a" stroke-width="1.2" stroke-linecap="round"/>
<path d="M663.3 1214.7 C667.8 1215.2 680.7 1218.9 690.0 1218.0 C699.3 1217.1 709.6 1211.9 719.3 1209.3 C729.1 1206.8 743.8 1203.8 748.7 1202.7" fill="none" stroke="#6a6a6a" stroke-width="1.0" stroke-linecap="round"/>
<path d="M751.3 1184.0 C755.6 1183.3 768.0 1182.0 776.7 1180.0 C785.3 1178.0 794.9 1172.9 803.3 1172.0 C811.8 1171.1 821.8 1172.0 827.3 1174.7 C832.9 1177.3 835.1 1185.8 836.7 1188.0" fill="none" stroke="#4e4e4e" stroke-width="1.0" stroke-linecap="round"/>
<path d="M751.3 1194.7 C754.4 1194.0 763.6 1192.9 770.0 1190.7 C776.4 1188.4 784.4 1183.4 790.0 1181.3 C795.6 1179.2 801.1 1178.6 803.3 1178.0" fill="none" stroke="#808080" stroke-width="1.1" stroke-linecap="round"/>
<path d="M751.3 1202.7 C755.6 1203.3 768.0 1205.1 776.7 1206.7 C785.3 1208.2 795.1 1212.0 803.3 1212.0 C811.6 1212.0 820.4 1209.8 826.0 1206.7 C831.6 1203.6 834.9 1195.6 836.7 1193.3" fill="none" stroke="#555555" stroke-width="1.0" stroke-linecap="round"/>
<path d="M756.7 1198.7 C761.1 1199.3 774.4 1201.3 783.3 1202.7 C792.2 1204.0 802.7 1207.3 810.0 1206.7 C817.3 1206.0 824.4 1200.0 827.3 1198.7" fill="none" stroke="#444444" stroke-width="1.0" stroke-linecap="round"/>
<path d="M716.7 1198.7 C718.9 1198.8 725.6 1199.3 730.0 1199.3 C734.4 1199.3 741.1 1198.8 743.3 1198.7" fill="none" stroke="#c8c8c8" stroke-width="1.4" stroke-linecap="round"/>
<path d="M695.3 1217.3 C698.2 1216.9 707.8 1215.8 712.7 1214.7 C717.6 1213.6 722.7 1211.3 724.7 1210.7" fill="none" stroke="#9a9a9a" stroke-width="1.0" stroke-linecap="round"/>
<path d="M668.0 1181.3 C668.7 1181.0 671.3 1179.7 672.0 1179.3" fill="none" stroke="#f2f2f2" stroke-width="2.0" stroke-linecap="round"/>
<path d="M672.0 1190.0 C673.1 1189.7 677.6 1188.3 678.7 1188.0" fill="none" stroke="#f2f2f2" stroke-width="2.2" stroke-linecap="round"/>
<path d="M680.0 1193.3 C681.1 1193.1 685.6 1192.0 686.7 1191.7" fill="none" stroke="#e8e8e8" stroke-width="1.8" stroke-linecap="round"/>
<path d="M662.7 1191.3 C662.8 1192.1 663.2 1195.2 663.3 1196.0" fill="none" stroke="#efefef" stroke-width="1.8" stroke-linecap="round"/>
<path d="M661.3 1209.3 C662.1 1210.0 665.2 1212.4 666.0 1213.1" fill="none" stroke="#ededed" stroke-width="1.6" stroke-linecap="round"/>
<path d="M772.7 1193.3 C783.3 1184.0 799.3 1178.0 807.3 1179.3 C819.3 1182.7 819.3 1196.0 807.3 1198.7 C794.0 1200.7 780.7 1197.3 772.7 1193.3 Z" fill="#333333"/>
</g>
<path d="M748.9 1178.0 Q750.1 1192.2 750.0 1206.4" fill="none" stroke="#c7a868" stroke-width="2.2"/>
<path d="M942.7 1239.7 L1028.1 1145.7 Q1034.1 1139.0 1041.4 1144.3 L1077.6 1170.4" fill="none" stroke="#858585" stroke-width="11.2"/>
<path d="M942.7 1239.7 L1028.1 1145.7 Q1034.1 1139.0 1041.4 1144.3 L1077.6 1170.4" fill="none" stroke="#a3a3a3" stroke-width="9.0"/>
<path d="M944.1 1241.0 L1029.5 1146.9 Q1034.4 1141.5 1040.3 1145.8 L1076.4 1172.0" fill="none" stroke="#d2d2d2" stroke-width="4.6"/>
<path d="M944.4 1241.3 L1029.8 1147.3 Q1034.4 1142.2 1040.0 1146.2 L1076.2 1172.4" fill="none" stroke="#f8f8f8" stroke-width="2.4"/>
<path d="M941.2 1238.4 L1026.6 1144.3 Q1033.8 1136.3 1042.6 1142.7 L1078.7 1168.8" fill="none" stroke="#989898" stroke-width="3.0"/>
<defs><linearGradient id="sock" x1="0" y1="0" x2="0" y2="1"><stop offset="0" stop-color="#7f7f7f"/><stop offset="0.22" stop-color="#a2a2a2"/><stop offset="0.5" stop-color="#d8d8d8"/><stop offset="0.68" stop-color="#f4f4f4"/><stop offset="0.85" stop-color="#a0a0a0"/><stop offset="1" stop-color="#707070"/></linearGradient></defs>
<g transform="translate(1077.6 1170.4) rotate(35.9)">
<rect x="-1" y="-10.6" width="29.5" height="21.2" rx="2.5" fill="url(#sock)"/>
<ellipse cx="27.0" cy="0" rx="3.6" ry="9.8" fill="#9a9a9a"/>
<ellipse cx="27.5" cy="0.5" rx="2.4" ry="7.2" fill="#5e5e5e"/>
</g>
<defs><linearGradient id="shaft" x1="0" y1="0" x2="1" y2="0"><stop offset="0" stop-color="#a8a8a8"/><stop offset="0.25" stop-color="#f2f2f2"/><stop offset="0.6" stop-color="#b8b8b8"/><stop offset="1" stop-color="#7c7c7c"/></linearGradient><linearGradient id="head" x1="0" y1="0" x2="1" y2="0"><stop offset="0" stop-color="#a0a0a0"/><stop offset="0.15" stop-color="#dcdcdc"/><stop offset="0.45" stop-color="#b2b2b2"/><stop offset="0.8" stop-color="#e0e0e0"/><stop offset="1" stop-color="#969696"/></linearGradient><linearGradient id="washg" x1="0" y1="0" x2="0" y2="1"><stop offset="0" stop-color="#a3a3a3"/><stop offset="0.45" stop-color="#8f8f8f"/><stop offset="1" stop-color="#8a8a8a"/></linearGradient><linearGradient id="nutg" x1="0" y1="0" x2="1" y2="1"><stop offset="0" stop-color="#b0b0b0"/><stop offset="0.5" stop-color="#7e7e7e"/><stop offset="1" stop-color="#9a9a9a"/></linearGradient></defs>
<rect x="1268.5" y="1143.1" width="26.1" height="41.5" rx="1.5" fill="url(#shaft)"/>
<path d="M1267.9 1149.7 L1295.3 1147.1" stroke="#6c6c6c" stroke-width="1.5" opacity="0.85"/>
<path d="M1268.5 1151.7 L1294.7 1149.1" stroke="#f4f4f4" stroke-width="1.1" opacity="0.8"/>
<path d="M1267.9 1154.1 L1295.3 1151.5" stroke="#6c6c6c" stroke-width="1.5" opacity="0.85"/>
<path d="M1268.5 1156.1 L1294.7 1153.5" stroke="#f4f4f4" stroke-width="1.1" opacity="0.8"/>
<path d="M1267.9 1158.5 L1295.3 1155.9" stroke="#6c6c6c" stroke-width="1.5" opacity="0.85"/>
<path d="M1268.5 1160.5 L1294.7 1157.9" stroke="#f4f4f4" stroke-width="1.1" opacity="0.8"/>
<path d="M1267.9 1163.0 L1295.3 1160.4" stroke="#6c6c6c" stroke-width="1.5" opacity="0.85"/>
<path d="M1268.5 1165.0 L1294.7 1162.4" stroke="#f4f4f4" stroke-width="1.1" opacity="0.8"/>
<path d="M1267.9 1167.4 L1295.3 1164.8" stroke="#6c6c6c" stroke-width="1.5" opacity="0.85"/>
<path d="M1268.5 1169.4 L1294.7 1166.8" stroke="#f4f4f4" stroke-width="1.1" opacity="0.8"/>
<path d="M1267.9 1171.8 L1295.3 1169.2" stroke="#6c6c6c" stroke-width="1.5" opacity="0.85"/>
<path d="M1268.5 1173.8 L1294.7 1171.2" stroke="#f4f4f4" stroke-width="1.1" opacity="0.8"/>
<path d="M1267.9 1176.3 L1295.3 1173.7" stroke="#6c6c6c" stroke-width="1.5" opacity="0.85"/>
<path d="M1268.5 1178.3 L1294.7 1175.7" stroke="#f4f4f4" stroke-width="1.1" opacity="0.8"/>
<path d="M1267.9 1180.7 L1295.3 1178.1" stroke="#6c6c6c" stroke-width="1.5" opacity="0.85"/>
<path d="M1268.5 1182.7 L1294.7 1180.1" stroke="#f4f4f4" stroke-width="1.1" opacity="0.8"/>
<path d="M1249.2 1134.0 C1250.9 1122.0 1264.5 1115.8 1280.5 1115.5 C1299.8 1115.8 1311.1 1126.6 1311.7 1137.4 C1300.9 1143.6 1289.5 1144.8 1280.5 1144.8 C1269.1 1144.8 1255.5 1141.4 1249.2 1134.0 Z" fill="url(#head)"/>
<path d="M1258.9 1139.1 C1263.4 1130.0 1278.2 1126.6 1289.5 1129.4 C1296.4 1132.3 1299.8 1138.0 1298.6 1141.4 C1289.5 1144.2 1269.1 1144.2 1258.9 1139.1 Z" fill="#9c9c9c" opacity="0.9"/>
<path d="M1269.1 1123.2 C1273.6 1118.6 1287.3 1118.1 1291.8 1122.0 C1288.4 1126.0 1273.6 1126.6 1269.1 1123.2 Z" fill="#f3f3f3"/>
<path d="M1277.0 1120.9 L1289.5 1123.8 M1283.9 1119.8 L1282.7 1126.0" stroke="#5a5a5a" stroke-width="1.6" stroke-linecap="round"/>
<path d="M1243.0 1201.6 L1265.7 1214.3 L1265.7 1235.9 L1243.0 1251.0 L1220.2 1239.1 L1220.2 1214.7 Z" fill="url(#nutg)" stroke="#8a8a8a" stroke-width="0.8" stroke-linejoin="round"/>
<path d="M1243.0 1226.2 L1243.0 1201.6 L1265.7 1214.3 Z" fill="#b9b9b9" stroke="#b9b9b9" stroke-width="0.5"/>
<path d="M1243.0 1226.2 L1265.7 1214.3 L1265.7 1235.9 Z" fill="#8c8c8c" stroke="#8c8c8c" stroke-width="0.5"/>
<path d="M1243.0 1226.2 L1265.7 1235.9 L1243.0 1251.0 Z" fill="#7a7a7a" stroke="#7a7a7a" stroke-width="0.5"/>
<path d="M1243.0 1226.2 L1243.0 1251.0 L1220.2 1239.1 Z" fill="#9a9a9a" stroke="#9a9a9a" stroke-width="0.5"/>
<path d="M1243.0 1226.2 L1220.2 1239.1 L1220.2 1214.7 Z" fill="#a9a9a9" stroke="#a9a9a9" stroke-width="0.5"/>
<path d="M1243.0 1226.2 L1220.2 1214.7 L1243.0 1201.6 Z" fill="#c2c2c2" stroke="#c2c2c2" stroke-width="0.5"/>
<circle cx="1243.0" cy="1226.2" r="18.6" fill="#9b9b9b" opacity="0.55"/>
<circle cx="1243.0" cy="1226.2" r="16.0" fill="#cfcfcf"/>
<circle cx="1242.7" cy="1226.0" r="13.4" fill="#8d8d8d"/>
<circle cx="1242.5" cy="1225.7" r="11.2" fill="#ffffff"/>
<ellipse cx="1323.2" cy="1226.6" rx="38.9" ry="38.2" fill="#b4b4b4"/>
<ellipse cx="1324.4" cy="1226.8" rx="37.9" ry="37.8" fill="url(#washg)"/>
<circle cx="1325.0" cy="1226.6" r="16.2" fill="#ffffff"/>
<text x="139.2" y="1345.0" font-family="Liberation Sans, sans-serif" font-size="27.5" fill="#f1fbe9" text-anchor="start" font-weight="bold" textLength="142.7" lengthAdjust="spacingAndGlyphs">Side Panel</text>
<text x="194.9" y="1377.7" font-family="Liberation Sans, sans-serif" font-size="27.5" fill="#f1fbe9" text-anchor="start" font-weight="bold" textLength="32.1" lengthAdjust="spacingAndGlyphs">x6</text>
<text x="391.5" y="1345.0" font-family="Liberation Sans, sans-serif" font-size="27.5" fill="#f1fbe9" text-anchor="start" font-weight="bold" textLength="178.8" lengthAdjust="spacingAndGlyphs">Corner Panel</text>
<text x="464.9" y="1377.7" font-family="Liberation Sans, sans-serif" font-size="27.5" fill="#f1fbe9" text-anchor="start" font-weight="bold" textLength="31.9" lengthAdjust="spacingAndGlyphs">x4</text>
<text x="614.4" y="1345.0" font-family="Liberation Sans, sans-serif" font-size="27.5" fill="#f1fbe9" text-anchor="start" font-weight="bold" textLength="272.9" lengthAdjust="spacingAndGlyphs">Rubber Edging Strip</text>
<text x="739.1" y="1377.7" font-family="Liberation Sans, sans-serif" font-size="27.5" fill="#f1fbe9" text-anchor="start" font-weight="bold" textLength="23.9" lengthAdjust="spacingAndGlyphs">x1</text>
<text x="928.0" y="1345.0" font-family="Liberation Sans, sans-serif" font-size="27.5" fill="#f1fbe9" text-anchor="start" font-weight="bold" textLength="185.0" lengthAdjust="spacingAndGlyphs">Hand wrench</text>
<text x="1009.0" y="1377.7" font-family="Liberation Sans, sans-serif" font-size="27.5" fill="#f1fbe9" text-anchor="start" font-weight="bold" textLength="23.9" lengthAdjust="spacingAndGlyphs">x1</text>
<text x="1149.5" y="1345.0" font-family="Liberation Sans, sans-serif" font-size="27.5" fill="#f1fbe9" text-anchor="start" font-weight="bold" textLength="279.3" lengthAdjust="spacingAndGlyphs">Cap,Bolt,Washer Set</text>
<text x="1264.7" y="1377.7" font-family="Liberation Sans, sans-serif" font-size="27.5" fill="#f1fbe9" text-anchor="start" font-weight="bold" textLength="49.7" lengthAdjust="spacingAndGlyphs">x40</text>
</g>
</svg>
</body></html>
